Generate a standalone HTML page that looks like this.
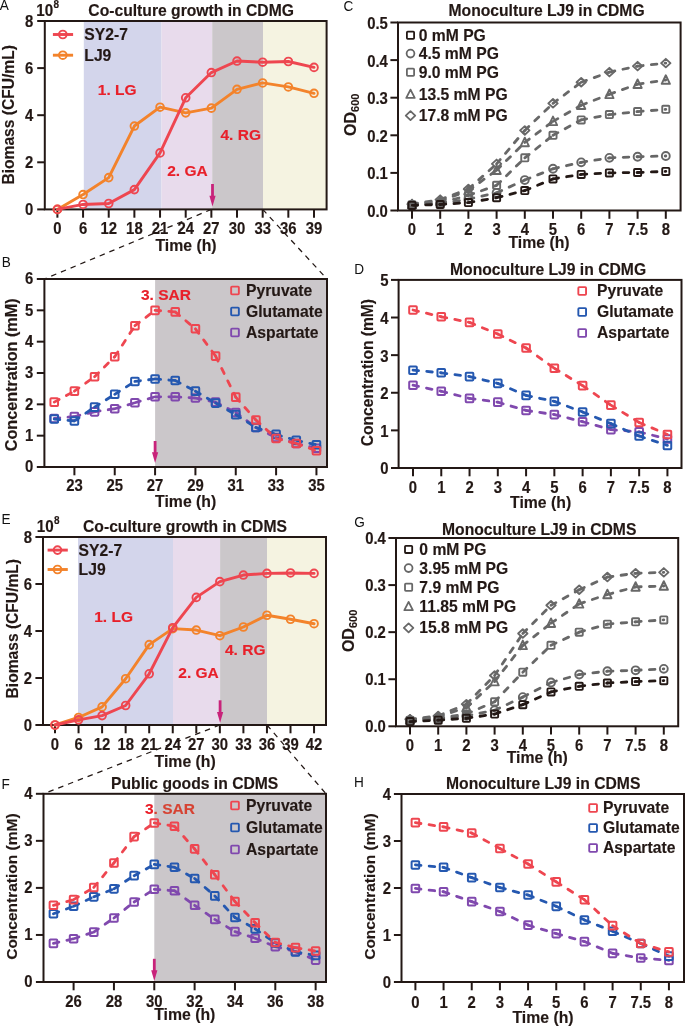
<!DOCTYPE html>
<html><head><meta charset="utf-8"><style>
html,body{margin:0;padding:0;background:#fff;}
svg{display:block;filter:blur(0.4px);}
text{font-family:"Liberation Sans", sans-serif;}
</style></head><body>
<svg width="685" height="1027" viewBox="0 0 685 1027">
<rect width="685" height="1027" fill="#fff"/>
<rect x="83.80" y="21.00" width="77.70" height="188.40" fill="#d3d5eb"/>
<rect x="161.50" y="21.00" width="50.70" height="188.40" fill="#e8dbec"/>
<rect x="212.20" y="21.00" width="50.80" height="188.40" fill="#cbc7ca"/>
<rect x="263.00" y="21.00" width="63.60" height="188.40" fill="#f5f3e1"/>
<rect x="44.80" y="21.00" width="281.80" height="188.40" fill="none" stroke="#231815" stroke-width="2.0"/>
<line x1="37.20" y1="209.40" x2="44.80" y2="209.40" stroke="#231815" stroke-width="2.0"/>
<text transform="translate(33.30 215.26) scale(1 1.055)" font-size="14.9" text-anchor="end" font-weight="bold" fill="#231815" stroke="#231815" stroke-width="0.15">0</text>
<line x1="37.20" y1="162.30" x2="44.80" y2="162.30" stroke="#231815" stroke-width="2.0"/>
<text transform="translate(33.30 168.16) scale(1 1.055)" font-size="14.9" text-anchor="end" font-weight="bold" fill="#231815" stroke="#231815" stroke-width="0.15">2</text>
<line x1="37.20" y1="115.20" x2="44.80" y2="115.20" stroke="#231815" stroke-width="2.0"/>
<text transform="translate(33.30 121.06) scale(1 1.055)" font-size="14.9" text-anchor="end" font-weight="bold" fill="#231815" stroke="#231815" stroke-width="0.15">4</text>
<line x1="37.20" y1="68.10" x2="44.80" y2="68.10" stroke="#231815" stroke-width="2.0"/>
<text transform="translate(33.30 73.96) scale(1 1.055)" font-size="14.9" text-anchor="end" font-weight="bold" fill="#231815" stroke="#231815" stroke-width="0.15">6</text>
<line x1="37.20" y1="21.00" x2="44.80" y2="21.00" stroke="#231815" stroke-width="2.0"/>
<text transform="translate(33.30 26.86) scale(1 1.055)" font-size="14.9" text-anchor="end" font-weight="bold" fill="#231815" stroke="#231815" stroke-width="0.15">8</text>
<line x1="57.40" y1="209.40" x2="57.40" y2="217.70" stroke="#231815" stroke-width="2.0"/>
<text transform="translate(57.40 233.50) scale(1 1.055)" font-size="14.9" text-anchor="middle" font-weight="bold" fill="#231815" stroke="#231815" stroke-width="0.15">0</text>
<line x1="83.06" y1="209.40" x2="83.06" y2="217.70" stroke="#231815" stroke-width="2.0"/>
<text transform="translate(83.06 233.50) scale(1 1.055)" font-size="14.9" text-anchor="middle" font-weight="bold" fill="#231815" stroke="#231815" stroke-width="0.15">6</text>
<line x1="108.72" y1="209.40" x2="108.72" y2="217.70" stroke="#231815" stroke-width="2.0"/>
<text transform="translate(108.72 233.50) scale(1 1.055)" font-size="14.9" text-anchor="middle" font-weight="bold" fill="#231815" stroke="#231815" stroke-width="0.15">12</text>
<line x1="134.38" y1="209.40" x2="134.38" y2="217.70" stroke="#231815" stroke-width="2.0"/>
<text transform="translate(134.38 233.50) scale(1 1.055)" font-size="14.9" text-anchor="middle" font-weight="bold" fill="#231815" stroke="#231815" stroke-width="0.15">18</text>
<line x1="160.04" y1="209.40" x2="160.04" y2="217.70" stroke="#231815" stroke-width="2.0"/>
<text transform="translate(160.04 233.50) scale(1 1.055)" font-size="14.9" text-anchor="middle" font-weight="bold" fill="#231815" stroke="#231815" stroke-width="0.15">21</text>
<line x1="185.70" y1="209.40" x2="185.70" y2="217.70" stroke="#231815" stroke-width="2.0"/>
<text transform="translate(185.70 233.50) scale(1 1.055)" font-size="14.9" text-anchor="middle" font-weight="bold" fill="#231815" stroke="#231815" stroke-width="0.15">24</text>
<line x1="211.36" y1="209.40" x2="211.36" y2="217.70" stroke="#231815" stroke-width="2.0"/>
<text transform="translate(211.36 233.50) scale(1 1.055)" font-size="14.9" text-anchor="middle" font-weight="bold" fill="#231815" stroke="#231815" stroke-width="0.15">27</text>
<line x1="237.02" y1="209.40" x2="237.02" y2="217.70" stroke="#231815" stroke-width="2.0"/>
<text transform="translate(237.02 233.50) scale(1 1.055)" font-size="14.9" text-anchor="middle" font-weight="bold" fill="#231815" stroke="#231815" stroke-width="0.15">30</text>
<line x1="262.68" y1="209.40" x2="262.68" y2="217.70" stroke="#231815" stroke-width="2.0"/>
<text transform="translate(262.68 233.50) scale(1 1.055)" font-size="14.9" text-anchor="middle" font-weight="bold" fill="#231815" stroke="#231815" stroke-width="0.15">33</text>
<line x1="288.34" y1="209.40" x2="288.34" y2="217.70" stroke="#231815" stroke-width="2.0"/>
<text transform="translate(288.34 233.50) scale(1 1.055)" font-size="14.9" text-anchor="middle" font-weight="bold" fill="#231815" stroke="#231815" stroke-width="0.15">36</text>
<line x1="314.00" y1="209.40" x2="314.00" y2="217.70" stroke="#231815" stroke-width="2.0"/>
<text transform="translate(314.00 233.50) scale(1 1.055)" font-size="14.9" text-anchor="middle" font-weight="bold" fill="#231815" stroke="#231815" stroke-width="0.15">39</text>
<text transform="translate(36.30 15.60) scale(1 1.07)" font-size="15.2" font-weight="bold" fill="#231815" stroke="#231815" stroke-width="0.15">10</text>
<text x="53.50" y="7.70" font-size="10" font-weight="bold" fill="#231815" stroke="#231815" stroke-width="0.15">8</text>
<text x="88.30" y="15.60" font-size="15.7" text-anchor="start" font-weight="bold" fill="#231815" stroke="#231815" stroke-width="0.15">Co-culture growth in CDMG</text>
<text x="14.00" y="114.80" font-size="15.6" text-anchor="middle" font-weight="bold" fill="#231815" stroke="#231815" stroke-width="0.15" transform="rotate(-90 14 114.8)">Biomass (CFU/mL)</text>
<text x="186.00" y="251.00" font-size="15.8" text-anchor="middle" font-weight="bold" fill="#231815" stroke="#231815" stroke-width="0.15">Time (h)</text>
<text x="97.80" y="95.30" font-size="15.5" text-anchor="start" font-weight="bold" fill="#e8202a" stroke="#e8202a" stroke-width="0.15">1. LG</text>
<text x="167.20" y="175.60" font-size="15.5" text-anchor="start" font-weight="bold" fill="#e8202a" stroke="#e8202a" stroke-width="0.15">2. GA</text>
<text x="220.50" y="139.60" font-size="15.5" text-anchor="start" font-weight="bold" fill="#e8202a" stroke="#e8202a" stroke-width="0.15">4. RG</text>
<polyline points="57.40,209.40 83.06,194.56 108.72,177.61 134.38,126.03 160.04,107.19 185.70,112.85 211.36,108.14 237.02,89.30 262.68,82.94 288.34,86.94 314.00,93.30" fill="none" stroke="#f3832b" stroke-width="2.9" stroke-linecap="round" stroke-linejoin="round"/>
<circle cx="57.40" cy="209.40" r="3.85" fill="none" stroke="#f3832b" stroke-width="1.9"/>
<circle cx="83.06" cy="194.56" r="3.85" fill="none" stroke="#f3832b" stroke-width="1.9"/>
<circle cx="108.72" cy="177.61" r="3.85" fill="none" stroke="#f3832b" stroke-width="1.9"/>
<circle cx="134.38" cy="126.03" r="3.85" fill="none" stroke="#f3832b" stroke-width="1.9"/>
<circle cx="160.04" cy="107.19" r="3.85" fill="none" stroke="#f3832b" stroke-width="1.9"/>
<circle cx="185.70" cy="112.85" r="3.85" fill="none" stroke="#f3832b" stroke-width="1.9"/>
<circle cx="211.36" cy="108.14" r="3.85" fill="none" stroke="#f3832b" stroke-width="1.9"/>
<circle cx="237.02" cy="89.30" r="3.85" fill="none" stroke="#f3832b" stroke-width="1.9"/>
<circle cx="262.68" cy="82.94" r="3.85" fill="none" stroke="#f3832b" stroke-width="1.9"/>
<circle cx="288.34" cy="86.94" r="3.85" fill="none" stroke="#f3832b" stroke-width="1.9"/>
<circle cx="314.00" cy="93.30" r="3.85" fill="none" stroke="#f3832b" stroke-width="1.9"/>
<polyline points="57.40,209.40 83.06,204.45 108.72,203.51 134.38,189.62 160.04,152.88 185.70,97.77 211.36,72.57 237.02,61.03 262.68,62.21 288.34,61.51 314.00,67.39" fill="none" stroke="#ee4650" stroke-width="2.9" stroke-linecap="round" stroke-linejoin="round"/>
<circle cx="57.40" cy="209.40" r="3.85" fill="none" stroke="#ee4650" stroke-width="1.9"/>
<circle cx="83.06" cy="204.45" r="3.85" fill="none" stroke="#ee4650" stroke-width="1.9"/>
<circle cx="108.72" cy="203.51" r="3.85" fill="none" stroke="#ee4650" stroke-width="1.9"/>
<circle cx="134.38" cy="189.62" r="3.85" fill="none" stroke="#ee4650" stroke-width="1.9"/>
<circle cx="160.04" cy="152.88" r="3.85" fill="none" stroke="#ee4650" stroke-width="1.9"/>
<circle cx="185.70" cy="97.77" r="3.85" fill="none" stroke="#ee4650" stroke-width="1.9"/>
<circle cx="211.36" cy="72.57" r="3.85" fill="none" stroke="#ee4650" stroke-width="1.9"/>
<circle cx="237.02" cy="61.03" r="3.85" fill="none" stroke="#ee4650" stroke-width="1.9"/>
<circle cx="262.68" cy="62.21" r="3.85" fill="none" stroke="#ee4650" stroke-width="1.9"/>
<circle cx="288.34" cy="61.51" r="3.85" fill="none" stroke="#ee4650" stroke-width="1.9"/>
<circle cx="314.00" cy="67.39" r="3.85" fill="none" stroke="#ee4650" stroke-width="1.9"/>
<line x1="52.90" y1="34.50" x2="73.10" y2="34.50" stroke="#ee4650" stroke-width="2.9"/>
<circle cx="62.80" cy="34.50" r="3.85" fill="none" stroke="#ee4650" stroke-width="1.9"/>
<text x="84.30" y="39.50" font-size="15.7" text-anchor="start" font-weight="bold" fill="#231815" stroke="#231815" stroke-width="0.15">SY2-7</text>
<line x1="52.90" y1="55.20" x2="73.10" y2="55.20" stroke="#f3832b" stroke-width="2.9"/>
<circle cx="62.80" cy="55.20" r="3.85" fill="none" stroke="#f3832b" stroke-width="1.9"/>
<text x="84.30" y="60.50" font-size="15.7" text-anchor="start" font-weight="bold" fill="#231815" stroke="#231815" stroke-width="0.15">LJ9</text>
<line x1="212.50" y1="184.00" x2="212.50" y2="196.60" stroke="#c8237a" stroke-width="2.8"/>
<polygon points="209.40,195.80 215.60,195.80 212.50,206.60" fill="#c8237a"/>
<text transform="translate(-0.20 10.30) scale(0.92 1)" font-size="14.8" fill="#111">A</text>
<rect x="78.00" y="537.00" width="95.00" height="188.00" fill="#d3d5eb"/>
<rect x="173.00" y="537.00" width="47.10" height="188.00" fill="#e8dbec"/>
<rect x="220.10" y="537.00" width="46.90" height="188.00" fill="#cbc7ca"/>
<rect x="267.00" y="537.00" width="59.00" height="188.00" fill="#f5f3e1"/>
<rect x="43.00" y="537.00" width="283.00" height="188.00" fill="none" stroke="#231815" stroke-width="2.0"/>
<line x1="35.40" y1="725.00" x2="43.00" y2="725.00" stroke="#231815" stroke-width="2.0"/>
<text transform="translate(32.00 730.86) scale(1 1.055)" font-size="14.9" text-anchor="end" font-weight="bold" fill="#231815" stroke="#231815" stroke-width="0.15">0</text>
<line x1="35.40" y1="678.00" x2="43.00" y2="678.00" stroke="#231815" stroke-width="2.0"/>
<text transform="translate(32.00 683.86) scale(1 1.055)" font-size="14.9" text-anchor="end" font-weight="bold" fill="#231815" stroke="#231815" stroke-width="0.15">2</text>
<line x1="35.40" y1="631.00" x2="43.00" y2="631.00" stroke="#231815" stroke-width="2.0"/>
<text transform="translate(32.00 636.86) scale(1 1.055)" font-size="14.9" text-anchor="end" font-weight="bold" fill="#231815" stroke="#231815" stroke-width="0.15">4</text>
<line x1="35.40" y1="584.00" x2="43.00" y2="584.00" stroke="#231815" stroke-width="2.0"/>
<text transform="translate(32.00 589.86) scale(1 1.055)" font-size="14.9" text-anchor="end" font-weight="bold" fill="#231815" stroke="#231815" stroke-width="0.15">6</text>
<line x1="35.40" y1="537.00" x2="43.00" y2="537.00" stroke="#231815" stroke-width="2.0"/>
<text transform="translate(32.00 542.86) scale(1 1.055)" font-size="14.9" text-anchor="end" font-weight="bold" fill="#231815" stroke="#231815" stroke-width="0.15">8</text>
<line x1="55.00" y1="725.00" x2="55.00" y2="733.30" stroke="#231815" stroke-width="2.0"/>
<text transform="translate(55.00 750.00) scale(1 1.055)" font-size="14.9" text-anchor="middle" font-weight="bold" fill="#231815" stroke="#231815" stroke-width="0.15">0</text>
<line x1="78.55" y1="725.00" x2="78.55" y2="733.30" stroke="#231815" stroke-width="2.0"/>
<text transform="translate(78.55 750.00) scale(1 1.055)" font-size="14.9" text-anchor="middle" font-weight="bold" fill="#231815" stroke="#231815" stroke-width="0.15">6</text>
<line x1="102.10" y1="725.00" x2="102.10" y2="733.30" stroke="#231815" stroke-width="2.0"/>
<text transform="translate(102.10 750.00) scale(1 1.055)" font-size="14.9" text-anchor="middle" font-weight="bold" fill="#231815" stroke="#231815" stroke-width="0.15">12</text>
<line x1="125.65" y1="725.00" x2="125.65" y2="733.30" stroke="#231815" stroke-width="2.0"/>
<text transform="translate(125.65 750.00) scale(1 1.055)" font-size="14.9" text-anchor="middle" font-weight="bold" fill="#231815" stroke="#231815" stroke-width="0.15">18</text>
<line x1="149.20" y1="725.00" x2="149.20" y2="733.30" stroke="#231815" stroke-width="2.0"/>
<text transform="translate(149.20 750.00) scale(1 1.055)" font-size="14.9" text-anchor="middle" font-weight="bold" fill="#231815" stroke="#231815" stroke-width="0.15">21</text>
<line x1="172.75" y1="725.00" x2="172.75" y2="733.30" stroke="#231815" stroke-width="2.0"/>
<text transform="translate(172.75 750.00) scale(1 1.055)" font-size="14.9" text-anchor="middle" font-weight="bold" fill="#231815" stroke="#231815" stroke-width="0.15">24</text>
<line x1="196.30" y1="725.00" x2="196.30" y2="733.30" stroke="#231815" stroke-width="2.0"/>
<text transform="translate(196.30 750.00) scale(1 1.055)" font-size="14.9" text-anchor="middle" font-weight="bold" fill="#231815" stroke="#231815" stroke-width="0.15">27</text>
<line x1="219.85" y1="725.00" x2="219.85" y2="733.30" stroke="#231815" stroke-width="2.0"/>
<text transform="translate(219.85 750.00) scale(1 1.055)" font-size="14.9" text-anchor="middle" font-weight="bold" fill="#231815" stroke="#231815" stroke-width="0.15">30</text>
<line x1="243.40" y1="725.00" x2="243.40" y2="733.30" stroke="#231815" stroke-width="2.0"/>
<text transform="translate(243.40 750.00) scale(1 1.055)" font-size="14.9" text-anchor="middle" font-weight="bold" fill="#231815" stroke="#231815" stroke-width="0.15">33</text>
<line x1="266.95" y1="725.00" x2="266.95" y2="733.30" stroke="#231815" stroke-width="2.0"/>
<text transform="translate(266.95 750.00) scale(1 1.055)" font-size="14.9" text-anchor="middle" font-weight="bold" fill="#231815" stroke="#231815" stroke-width="0.15">36</text>
<line x1="290.50" y1="725.00" x2="290.50" y2="733.30" stroke="#231815" stroke-width="2.0"/>
<text transform="translate(290.50 750.00) scale(1 1.055)" font-size="14.9" text-anchor="middle" font-weight="bold" fill="#231815" stroke="#231815" stroke-width="0.15">39</text>
<line x1="314.05" y1="725.00" x2="314.05" y2="733.30" stroke="#231815" stroke-width="2.0"/>
<text transform="translate(314.05 750.00) scale(1 1.055)" font-size="14.9" text-anchor="middle" font-weight="bold" fill="#231815" stroke="#231815" stroke-width="0.15">42</text>
<text transform="translate(36.80 532.20) scale(1 1.07)" font-size="15.2" font-weight="bold" fill="#231815" stroke="#231815" stroke-width="0.15">10</text>
<text x="54.00" y="524.30" font-size="10" font-weight="bold" fill="#231815" stroke="#231815" stroke-width="0.15">8</text>
<text x="83.00" y="531.50" font-size="15.7" text-anchor="start" font-weight="bold" fill="#231815" stroke="#231815" stroke-width="0.15">Co-culture growth in CDMS</text>
<text x="18.00" y="628.70" font-size="15.6" text-anchor="middle" font-weight="bold" fill="#231815" stroke="#231815" stroke-width="0.15" transform="rotate(-90 18 628.7)">Biomass (CFU/mL)</text>
<text x="185.20" y="766.70" font-size="15.8" text-anchor="middle" font-weight="bold" fill="#231815" stroke="#231815" stroke-width="0.15">Time (h)</text>
<text x="94.20" y="621.80" font-size="15.5" text-anchor="start" font-weight="bold" fill="#e8202a" stroke="#e8202a" stroke-width="0.15">1. LG</text>
<text x="178.30" y="677.80" font-size="15.5" text-anchor="start" font-weight="bold" fill="#e8202a" stroke="#e8202a" stroke-width="0.15">2. GA</text>
<text x="225.00" y="654.60" font-size="15.5" text-anchor="start" font-weight="bold" fill="#e8202a" stroke="#e8202a" stroke-width="0.15">4. RG</text>
<polyline points="55.00,725.00 78.55,717.48 102.10,706.90 125.65,678.71 149.20,644.63 172.75,628.65 196.30,630.06 219.85,635.70 243.40,627.00 266.95,615.25 290.50,619.25 314.05,623.72" fill="none" stroke="#f3832b" stroke-width="2.9" stroke-linecap="round" stroke-linejoin="round"/>
<circle cx="55.00" cy="725.00" r="3.85" fill="none" stroke="#f3832b" stroke-width="1.9"/>
<circle cx="78.55" cy="717.48" r="3.85" fill="none" stroke="#f3832b" stroke-width="1.9"/>
<circle cx="102.10" cy="706.90" r="3.85" fill="none" stroke="#f3832b" stroke-width="1.9"/>
<circle cx="125.65" cy="678.71" r="3.85" fill="none" stroke="#f3832b" stroke-width="1.9"/>
<circle cx="149.20" cy="644.63" r="3.85" fill="none" stroke="#f3832b" stroke-width="1.9"/>
<circle cx="172.75" cy="628.65" r="3.85" fill="none" stroke="#f3832b" stroke-width="1.9"/>
<circle cx="196.30" cy="630.06" r="3.85" fill="none" stroke="#f3832b" stroke-width="1.9"/>
<circle cx="219.85" cy="635.70" r="3.85" fill="none" stroke="#f3832b" stroke-width="1.9"/>
<circle cx="243.40" cy="627.00" r="3.85" fill="none" stroke="#f3832b" stroke-width="1.9"/>
<circle cx="266.95" cy="615.25" r="3.85" fill="none" stroke="#f3832b" stroke-width="1.9"/>
<circle cx="290.50" cy="619.25" r="3.85" fill="none" stroke="#f3832b" stroke-width="1.9"/>
<circle cx="314.05" cy="623.72" r="3.85" fill="none" stroke="#f3832b" stroke-width="1.9"/>
<polyline points="55.00,725.00 78.55,719.83 102.10,715.60 125.65,705.50 149.20,673.77 172.75,627.71 196.30,597.39 219.85,581.65 243.40,575.07 266.95,573.42 290.50,572.96 314.05,573.42" fill="none" stroke="#ee4650" stroke-width="2.9" stroke-linecap="round" stroke-linejoin="round"/>
<circle cx="55.00" cy="725.00" r="3.85" fill="none" stroke="#ee4650" stroke-width="1.9"/>
<circle cx="78.55" cy="719.83" r="3.85" fill="none" stroke="#ee4650" stroke-width="1.9"/>
<circle cx="102.10" cy="715.60" r="3.85" fill="none" stroke="#ee4650" stroke-width="1.9"/>
<circle cx="125.65" cy="705.50" r="3.85" fill="none" stroke="#ee4650" stroke-width="1.9"/>
<circle cx="149.20" cy="673.77" r="3.85" fill="none" stroke="#ee4650" stroke-width="1.9"/>
<circle cx="172.75" cy="627.71" r="3.85" fill="none" stroke="#ee4650" stroke-width="1.9"/>
<circle cx="196.30" cy="597.39" r="3.85" fill="none" stroke="#ee4650" stroke-width="1.9"/>
<circle cx="219.85" cy="581.65" r="3.85" fill="none" stroke="#ee4650" stroke-width="1.9"/>
<circle cx="243.40" cy="575.07" r="3.85" fill="none" stroke="#ee4650" stroke-width="1.9"/>
<circle cx="266.95" cy="573.42" r="3.85" fill="none" stroke="#ee4650" stroke-width="1.9"/>
<circle cx="290.50" cy="572.96" r="3.85" fill="none" stroke="#ee4650" stroke-width="1.9"/>
<circle cx="314.05" cy="573.42" r="3.85" fill="none" stroke="#ee4650" stroke-width="1.9"/>
<line x1="47.60" y1="550.10" x2="67.80" y2="550.10" stroke="#ee4650" stroke-width="2.9"/>
<circle cx="57.50" cy="550.10" r="3.85" fill="none" stroke="#ee4650" stroke-width="1.9"/>
<text x="78.60" y="555.50" font-size="15.7" text-anchor="start" font-weight="bold" fill="#231815" stroke="#231815" stroke-width="0.15">SY2-7</text>
<line x1="47.60" y1="569.50" x2="67.80" y2="569.50" stroke="#f3832b" stroke-width="2.9"/>
<circle cx="57.50" cy="569.50" r="3.85" fill="none" stroke="#f3832b" stroke-width="1.9"/>
<text x="78.60" y="574.60" font-size="15.7" text-anchor="start" font-weight="bold" fill="#231815" stroke="#231815" stroke-width="0.15">LJ9</text>
<line x1="220.10" y1="700.30" x2="220.10" y2="712.80" stroke="#c8237a" stroke-width="2.8"/>
<polygon points="217.00,712.00 223.20,712.00 220.10,722.80" fill="#c8237a"/>
<text transform="translate(1.60 523.80) scale(0.92 1)" font-size="14.8" fill="#111">E</text>
<rect x="155.10" y="279.00" width="171.90" height="188.00" fill="#cbc7ca"/>
<rect x="44.40" y="279.00" width="282.60" height="188.00" fill="none" stroke="#231815" stroke-width="2.0"/>
<line x1="36.80" y1="467.00" x2="44.40" y2="467.00" stroke="#231815" stroke-width="2.0"/>
<text transform="translate(33.40 472.36) scale(1 1.055)" font-size="14.9" text-anchor="end" font-weight="bold" fill="#231815" stroke="#231815" stroke-width="0.15">0</text>
<line x1="36.80" y1="435.67" x2="44.40" y2="435.67" stroke="#231815" stroke-width="2.0"/>
<text transform="translate(33.40 441.03) scale(1 1.055)" font-size="14.9" text-anchor="end" font-weight="bold" fill="#231815" stroke="#231815" stroke-width="0.15">1</text>
<line x1="36.80" y1="404.33" x2="44.40" y2="404.33" stroke="#231815" stroke-width="2.0"/>
<text transform="translate(33.40 409.70) scale(1 1.055)" font-size="14.9" text-anchor="end" font-weight="bold" fill="#231815" stroke="#231815" stroke-width="0.15">2</text>
<line x1="36.80" y1="373.00" x2="44.40" y2="373.00" stroke="#231815" stroke-width="2.0"/>
<text transform="translate(33.40 378.36) scale(1 1.055)" font-size="14.9" text-anchor="end" font-weight="bold" fill="#231815" stroke="#231815" stroke-width="0.15">3</text>
<line x1="36.80" y1="341.67" x2="44.40" y2="341.67" stroke="#231815" stroke-width="2.0"/>
<text transform="translate(33.40 347.03) scale(1 1.055)" font-size="14.9" text-anchor="end" font-weight="bold" fill="#231815" stroke="#231815" stroke-width="0.15">4</text>
<line x1="36.80" y1="310.33" x2="44.40" y2="310.33" stroke="#231815" stroke-width="2.0"/>
<text transform="translate(33.40 315.70) scale(1 1.055)" font-size="14.9" text-anchor="end" font-weight="bold" fill="#231815" stroke="#231815" stroke-width="0.15">5</text>
<line x1="36.80" y1="279.00" x2="44.40" y2="279.00" stroke="#231815" stroke-width="2.0"/>
<text transform="translate(33.40 284.36) scale(1 1.055)" font-size="14.9" text-anchor="end" font-weight="bold" fill="#231815" stroke="#231815" stroke-width="0.15">6</text>
<line x1="74.40" y1="467.00" x2="74.40" y2="475.30" stroke="#231815" stroke-width="2.0"/>
<text transform="translate(74.40 491.00) scale(1 1.055)" font-size="14.9" text-anchor="middle" font-weight="bold" fill="#231815" stroke="#231815" stroke-width="0.15">23</text>
<line x1="114.74" y1="467.00" x2="114.74" y2="475.30" stroke="#231815" stroke-width="2.0"/>
<text transform="translate(114.74 491.00) scale(1 1.055)" font-size="14.9" text-anchor="middle" font-weight="bold" fill="#231815" stroke="#231815" stroke-width="0.15">25</text>
<line x1="155.08" y1="467.00" x2="155.08" y2="475.30" stroke="#231815" stroke-width="2.0"/>
<text transform="translate(155.08 491.00) scale(1 1.055)" font-size="14.9" text-anchor="middle" font-weight="bold" fill="#231815" stroke="#231815" stroke-width="0.15">27</text>
<line x1="195.42" y1="467.00" x2="195.42" y2="475.30" stroke="#231815" stroke-width="2.0"/>
<text transform="translate(195.42 491.00) scale(1 1.055)" font-size="14.9" text-anchor="middle" font-weight="bold" fill="#231815" stroke="#231815" stroke-width="0.15">29</text>
<line x1="235.76" y1="467.00" x2="235.76" y2="475.30" stroke="#231815" stroke-width="2.0"/>
<text transform="translate(235.76 491.00) scale(1 1.055)" font-size="14.9" text-anchor="middle" font-weight="bold" fill="#231815" stroke="#231815" stroke-width="0.15">31</text>
<line x1="276.10" y1="467.00" x2="276.10" y2="475.30" stroke="#231815" stroke-width="2.0"/>
<text transform="translate(276.10 491.00) scale(1 1.055)" font-size="14.9" text-anchor="middle" font-weight="bold" fill="#231815" stroke="#231815" stroke-width="0.15">33</text>
<line x1="316.44" y1="467.00" x2="316.44" y2="475.30" stroke="#231815" stroke-width="2.0"/>
<text transform="translate(316.44 491.00) scale(1 1.055)" font-size="14.9" text-anchor="middle" font-weight="bold" fill="#231815" stroke="#231815" stroke-width="0.15">35</text>
<text x="17.00" y="374.80" font-size="16.2" text-anchor="middle" font-weight="bold" fill="#231815" stroke="#231815" stroke-width="0.15" transform="rotate(-90 17 374.8)">Concentration (mM)</text>
<text x="185.70" y="507.00" font-size="15.8" text-anchor="middle" font-weight="bold" fill="#231815" stroke="#231815" stroke-width="0.15">Time (h)</text>
<line x1="54.23" y1="418.43" x2="74.40" y2="416.55" stroke="#8049ae" stroke-width="2.8" stroke-linecap="round" stroke-dasharray="5.6,8.2"/>
<line x1="74.40" y1="416.55" x2="94.57" y2="411.85" stroke="#8049ae" stroke-width="2.8" stroke-linecap="round" stroke-dasharray="5.6,8.2"/>
<line x1="94.57" y1="411.85" x2="114.74" y2="408.72" stroke="#8049ae" stroke-width="2.8" stroke-linecap="round" stroke-dasharray="5.6,8.2"/>
<line x1="114.74" y1="408.72" x2="134.91" y2="402.77" stroke="#8049ae" stroke-width="2.8" stroke-linecap="round" stroke-dasharray="5.6,8.2"/>
<line x1="134.91" y1="402.77" x2="155.08" y2="396.81" stroke="#8049ae" stroke-width="2.8" stroke-linecap="round" stroke-dasharray="5.6,8.2"/>
<line x1="155.08" y1="396.81" x2="175.25" y2="396.81" stroke="#8049ae" stroke-width="2.8" stroke-linecap="round" stroke-dasharray="5.6,8.2"/>
<line x1="175.25" y1="396.81" x2="195.42" y2="398.07" stroke="#8049ae" stroke-width="2.8" stroke-linecap="round" stroke-dasharray="5.6,8.2"/>
<line x1="195.42" y1="398.07" x2="215.59" y2="402.14" stroke="#8049ae" stroke-width="2.8" stroke-linecap="round" stroke-dasharray="5.6,8.2"/>
<line x1="215.59" y1="402.14" x2="235.76" y2="412.48" stroke="#8049ae" stroke-width="2.8" stroke-linecap="round" stroke-dasharray="5.6,8.2"/>
<line x1="235.76" y1="412.48" x2="255.93" y2="427.52" stroke="#8049ae" stroke-width="2.8" stroke-linecap="round" stroke-dasharray="5.6,8.2"/>
<line x1="255.93" y1="427.52" x2="276.10" y2="437.55" stroke="#8049ae" stroke-width="2.8" stroke-linecap="round" stroke-dasharray="5.6,8.2"/>
<line x1="276.10" y1="437.55" x2="296.27" y2="443.50" stroke="#8049ae" stroke-width="2.8" stroke-linecap="round" stroke-dasharray="5.6,8.2"/>
<line x1="296.27" y1="443.50" x2="316.44" y2="448.20" stroke="#8049ae" stroke-width="2.8" stroke-linecap="round" stroke-dasharray="5.6,8.2"/>
<rect x="50.43" y="414.63" width="7.60" height="7.60" rx="0.8" fill="none" stroke="#8049ae" stroke-width="2.0"/>
<rect x="70.60" y="412.75" width="7.60" height="7.60" rx="0.8" fill="none" stroke="#8049ae" stroke-width="2.0"/>
<rect x="90.77" y="408.05" width="7.60" height="7.60" rx="0.8" fill="none" stroke="#8049ae" stroke-width="2.0"/>
<rect x="110.94" y="404.92" width="7.60" height="7.60" rx="0.8" fill="none" stroke="#8049ae" stroke-width="2.0"/>
<rect x="131.11" y="398.97" width="7.60" height="7.60" rx="0.8" fill="none" stroke="#8049ae" stroke-width="2.0"/>
<rect x="151.28" y="393.01" width="7.60" height="7.60" rx="0.8" fill="none" stroke="#8049ae" stroke-width="2.0"/>
<rect x="171.45" y="393.01" width="7.60" height="7.60" rx="0.8" fill="none" stroke="#8049ae" stroke-width="2.0"/>
<rect x="191.62" y="394.27" width="7.60" height="7.60" rx="0.8" fill="none" stroke="#8049ae" stroke-width="2.0"/>
<rect x="211.79" y="398.34" width="7.60" height="7.60" rx="0.8" fill="none" stroke="#8049ae" stroke-width="2.0"/>
<rect x="231.96" y="408.68" width="7.60" height="7.60" rx="0.8" fill="none" stroke="#8049ae" stroke-width="2.0"/>
<rect x="252.13" y="423.72" width="7.60" height="7.60" rx="0.8" fill="none" stroke="#8049ae" stroke-width="2.0"/>
<rect x="272.30" y="433.75" width="7.60" height="7.60" rx="0.8" fill="none" stroke="#8049ae" stroke-width="2.0"/>
<rect x="292.47" y="439.70" width="7.60" height="7.60" rx="0.8" fill="none" stroke="#8049ae" stroke-width="2.0"/>
<rect x="312.64" y="444.40" width="7.60" height="7.60" rx="0.8" fill="none" stroke="#8049ae" stroke-width="2.0"/>
<line x1="54.23" y1="419.06" x2="74.40" y2="420.94" stroke="#2558b0" stroke-width="2.8" stroke-linecap="round" stroke-dasharray="5.6,8.2"/>
<line x1="74.40" y1="420.94" x2="94.57" y2="407.15" stroke="#2558b0" stroke-width="2.8" stroke-linecap="round" stroke-dasharray="5.6,8.2"/>
<line x1="94.57" y1="407.15" x2="114.74" y2="394.31" stroke="#2558b0" stroke-width="2.8" stroke-linecap="round" stroke-dasharray="5.6,8.2"/>
<line x1="114.74" y1="394.31" x2="134.91" y2="381.46" stroke="#2558b0" stroke-width="2.8" stroke-linecap="round" stroke-dasharray="5.6,8.2"/>
<line x1="134.91" y1="381.46" x2="155.08" y2="378.95" stroke="#2558b0" stroke-width="2.8" stroke-linecap="round" stroke-dasharray="5.6,8.2"/>
<line x1="155.08" y1="378.95" x2="175.25" y2="380.52" stroke="#2558b0" stroke-width="2.8" stroke-linecap="round" stroke-dasharray="5.6,8.2"/>
<line x1="175.25" y1="380.52" x2="195.42" y2="391.17" stroke="#2558b0" stroke-width="2.8" stroke-linecap="round" stroke-dasharray="5.6,8.2"/>
<line x1="195.42" y1="391.17" x2="215.59" y2="403.08" stroke="#2558b0" stroke-width="2.8" stroke-linecap="round" stroke-dasharray="5.6,8.2"/>
<line x1="215.59" y1="403.08" x2="235.76" y2="414.67" stroke="#2558b0" stroke-width="2.8" stroke-linecap="round" stroke-dasharray="5.6,8.2"/>
<line x1="235.76" y1="414.67" x2="255.93" y2="427.52" stroke="#2558b0" stroke-width="2.8" stroke-linecap="round" stroke-dasharray="5.6,8.2"/>
<line x1="255.93" y1="427.52" x2="276.10" y2="434.41" stroke="#2558b0" stroke-width="2.8" stroke-linecap="round" stroke-dasharray="5.6,8.2"/>
<line x1="276.10" y1="434.41" x2="296.27" y2="440.37" stroke="#2558b0" stroke-width="2.8" stroke-linecap="round" stroke-dasharray="5.6,8.2"/>
<line x1="296.27" y1="440.37" x2="316.44" y2="444.75" stroke="#2558b0" stroke-width="2.8" stroke-linecap="round" stroke-dasharray="5.6,8.2"/>
<rect x="50.43" y="415.26" width="7.60" height="7.60" rx="0.8" fill="none" stroke="#2558b0" stroke-width="2.0"/>
<rect x="70.60" y="417.14" width="7.60" height="7.60" rx="0.8" fill="none" stroke="#2558b0" stroke-width="2.0"/>
<rect x="90.77" y="403.35" width="7.60" height="7.60" rx="0.8" fill="none" stroke="#2558b0" stroke-width="2.0"/>
<rect x="110.94" y="390.51" width="7.60" height="7.60" rx="0.8" fill="none" stroke="#2558b0" stroke-width="2.0"/>
<rect x="131.11" y="377.66" width="7.60" height="7.60" rx="0.8" fill="none" stroke="#2558b0" stroke-width="2.0"/>
<rect x="151.28" y="375.15" width="7.60" height="7.60" rx="0.8" fill="none" stroke="#2558b0" stroke-width="2.0"/>
<rect x="171.45" y="376.72" width="7.60" height="7.60" rx="0.8" fill="none" stroke="#2558b0" stroke-width="2.0"/>
<rect x="191.62" y="387.37" width="7.60" height="7.60" rx="0.8" fill="none" stroke="#2558b0" stroke-width="2.0"/>
<rect x="211.79" y="399.28" width="7.60" height="7.60" rx="0.8" fill="none" stroke="#2558b0" stroke-width="2.0"/>
<rect x="231.96" y="410.87" width="7.60" height="7.60" rx="0.8" fill="none" stroke="#2558b0" stroke-width="2.0"/>
<rect x="252.13" y="423.72" width="7.60" height="7.60" rx="0.8" fill="none" stroke="#2558b0" stroke-width="2.0"/>
<rect x="272.30" y="430.61" width="7.60" height="7.60" rx="0.8" fill="none" stroke="#2558b0" stroke-width="2.0"/>
<rect x="292.47" y="436.57" width="7.60" height="7.60" rx="0.8" fill="none" stroke="#2558b0" stroke-width="2.0"/>
<rect x="312.64" y="440.95" width="7.60" height="7.60" rx="0.8" fill="none" stroke="#2558b0" stroke-width="2.0"/>
<line x1="54.23" y1="402.14" x2="74.40" y2="391.17" stroke="#ee4650" stroke-width="2.8" stroke-linecap="round" stroke-dasharray="5.6,8.2"/>
<line x1="74.40" y1="391.17" x2="94.57" y2="376.76" stroke="#ee4650" stroke-width="2.8" stroke-linecap="round" stroke-dasharray="5.6,8.2"/>
<line x1="94.57" y1="376.76" x2="114.74" y2="356.71" stroke="#ee4650" stroke-width="2.8" stroke-linecap="round" stroke-dasharray="5.6,8.2"/>
<line x1="114.74" y1="356.71" x2="134.91" y2="325.69" stroke="#ee4650" stroke-width="2.8" stroke-linecap="round" stroke-dasharray="5.6,8.2"/>
<line x1="134.91" y1="325.69" x2="155.08" y2="310.33" stroke="#ee4650" stroke-width="2.8" stroke-linecap="round" stroke-dasharray="5.6,8.2"/>
<line x1="155.08" y1="310.33" x2="175.25" y2="311.90" stroke="#ee4650" stroke-width="2.8" stroke-linecap="round" stroke-dasharray="5.6,8.2"/>
<line x1="175.25" y1="311.90" x2="195.42" y2="328.82" stroke="#ee4650" stroke-width="2.8" stroke-linecap="round" stroke-dasharray="5.6,8.2"/>
<line x1="195.42" y1="328.82" x2="215.59" y2="356.08" stroke="#ee4650" stroke-width="2.8" stroke-linecap="round" stroke-dasharray="5.6,8.2"/>
<line x1="215.59" y1="356.08" x2="235.76" y2="397.13" stroke="#ee4650" stroke-width="2.8" stroke-linecap="round" stroke-dasharray="5.6,8.2"/>
<line x1="235.76" y1="397.13" x2="255.93" y2="420.00" stroke="#ee4650" stroke-width="2.8" stroke-linecap="round" stroke-dasharray="5.6,8.2"/>
<line x1="255.93" y1="420.00" x2="276.10" y2="438.49" stroke="#ee4650" stroke-width="2.8" stroke-linecap="round" stroke-dasharray="5.6,8.2"/>
<line x1="276.10" y1="438.49" x2="296.27" y2="443.50" stroke="#ee4650" stroke-width="2.8" stroke-linecap="round" stroke-dasharray="5.6,8.2"/>
<line x1="296.27" y1="443.50" x2="316.44" y2="450.71" stroke="#ee4650" stroke-width="2.8" stroke-linecap="round" stroke-dasharray="5.6,8.2"/>
<rect x="50.43" y="398.34" width="7.60" height="7.60" rx="0.8" fill="none" stroke="#ee4650" stroke-width="2.0"/>
<rect x="70.60" y="387.37" width="7.60" height="7.60" rx="0.8" fill="none" stroke="#ee4650" stroke-width="2.0"/>
<rect x="90.77" y="372.96" width="7.60" height="7.60" rx="0.8" fill="none" stroke="#ee4650" stroke-width="2.0"/>
<rect x="110.94" y="352.91" width="7.60" height="7.60" rx="0.8" fill="none" stroke="#ee4650" stroke-width="2.0"/>
<rect x="131.11" y="321.89" width="7.60" height="7.60" rx="0.8" fill="none" stroke="#ee4650" stroke-width="2.0"/>
<rect x="151.28" y="306.53" width="7.60" height="7.60" rx="0.8" fill="none" stroke="#ee4650" stroke-width="2.0"/>
<rect x="171.45" y="308.10" width="7.60" height="7.60" rx="0.8" fill="none" stroke="#ee4650" stroke-width="2.0"/>
<rect x="191.62" y="325.02" width="7.60" height="7.60" rx="0.8" fill="none" stroke="#ee4650" stroke-width="2.0"/>
<rect x="211.79" y="352.28" width="7.60" height="7.60" rx="0.8" fill="none" stroke="#ee4650" stroke-width="2.0"/>
<rect x="231.96" y="393.33" width="7.60" height="7.60" rx="0.8" fill="none" stroke="#ee4650" stroke-width="2.0"/>
<rect x="252.13" y="416.20" width="7.60" height="7.60" rx="0.8" fill="none" stroke="#ee4650" stroke-width="2.0"/>
<rect x="272.30" y="434.69" width="7.60" height="7.60" rx="0.8" fill="none" stroke="#ee4650" stroke-width="2.0"/>
<rect x="292.47" y="439.70" width="7.60" height="7.60" rx="0.8" fill="none" stroke="#ee4650" stroke-width="2.0"/>
<rect x="312.64" y="446.91" width="7.60" height="7.60" rx="0.8" fill="none" stroke="#ee4650" stroke-width="2.0"/>
<rect x="231.15" y="286.65" width="7.70" height="7.70" rx="0.8" fill="none" stroke="#ee4650" stroke-width="1.9"/>
<text x="246.00" y="295.80" font-size="15.7" text-anchor="start" font-weight="bold" fill="#231815" stroke="#231815" stroke-width="0.15">Pyruvate</text>
<rect x="231.15" y="307.65" width="7.70" height="7.70" rx="0.8" fill="none" stroke="#2558b0" stroke-width="1.9"/>
<text x="246.00" y="316.80" font-size="15.7" text-anchor="start" font-weight="bold" fill="#231815" stroke="#231815" stroke-width="0.15">Glutamate</text>
<rect x="231.15" y="328.65" width="7.70" height="7.70" rx="0.8" fill="none" stroke="#8049ae" stroke-width="1.9"/>
<text x="246.00" y="337.80" font-size="15.7" text-anchor="start" font-weight="bold" fill="#231815" stroke="#231815" stroke-width="0.15">Aspartate</text>
<line x1="155.10" y1="441.00" x2="155.10" y2="453.00" stroke="#c8237a" stroke-width="2.8"/>
<polygon points="152.00,452.20 158.20,452.20 155.10,463.00" fill="#c8237a"/>
<text x="141.00" y="300.00" font-size="15.5" text-anchor="start" font-weight="bold" fill="#e8202a" stroke="#e8202a" stroke-width="0.15">3. SAR</text>
<text transform="translate(1.80 266.50) scale(0.92 1)" font-size="14.8" fill="#111">B</text>
<rect x="154.30" y="793.80" width="171.70" height="188.20" fill="#cbc7ca"/>
<rect x="43.50" y="793.80" width="282.50" height="188.20" fill="none" stroke="#231815" stroke-width="2.0"/>
<line x1="35.90" y1="982.00" x2="43.50" y2="982.00" stroke="#231815" stroke-width="2.0"/>
<text transform="translate(32.50 987.36) scale(1 1.055)" font-size="14.9" text-anchor="end" font-weight="bold" fill="#231815" stroke="#231815" stroke-width="0.15">0</text>
<line x1="35.90" y1="934.95" x2="43.50" y2="934.95" stroke="#231815" stroke-width="2.0"/>
<text transform="translate(32.50 940.31) scale(1 1.055)" font-size="14.9" text-anchor="end" font-weight="bold" fill="#231815" stroke="#231815" stroke-width="0.15">1</text>
<line x1="35.90" y1="887.90" x2="43.50" y2="887.90" stroke="#231815" stroke-width="2.0"/>
<text transform="translate(32.50 893.26) scale(1 1.055)" font-size="14.9" text-anchor="end" font-weight="bold" fill="#231815" stroke="#231815" stroke-width="0.15">2</text>
<line x1="35.90" y1="840.85" x2="43.50" y2="840.85" stroke="#231815" stroke-width="2.0"/>
<text transform="translate(32.50 846.21) scale(1 1.055)" font-size="14.9" text-anchor="end" font-weight="bold" fill="#231815" stroke="#231815" stroke-width="0.15">3</text>
<line x1="35.90" y1="793.80" x2="43.50" y2="793.80" stroke="#231815" stroke-width="2.0"/>
<text transform="translate(32.50 799.16) scale(1 1.055)" font-size="14.9" text-anchor="end" font-weight="bold" fill="#231815" stroke="#231815" stroke-width="0.15">4</text>
<line x1="73.60" y1="982.00" x2="73.60" y2="990.30" stroke="#231815" stroke-width="2.0"/>
<text transform="translate(73.60 1007.00) scale(1 1.055)" font-size="14.9" text-anchor="middle" font-weight="bold" fill="#231815" stroke="#231815" stroke-width="0.15">26</text>
<line x1="113.94" y1="982.00" x2="113.94" y2="990.30" stroke="#231815" stroke-width="2.0"/>
<text transform="translate(113.94 1007.00) scale(1 1.055)" font-size="14.9" text-anchor="middle" font-weight="bold" fill="#231815" stroke="#231815" stroke-width="0.15">28</text>
<line x1="154.28" y1="982.00" x2="154.28" y2="990.30" stroke="#231815" stroke-width="2.0"/>
<text transform="translate(154.28 1007.00) scale(1 1.055)" font-size="14.9" text-anchor="middle" font-weight="bold" fill="#231815" stroke="#231815" stroke-width="0.15">30</text>
<line x1="194.62" y1="982.00" x2="194.62" y2="990.30" stroke="#231815" stroke-width="2.0"/>
<text transform="translate(194.62 1007.00) scale(1 1.055)" font-size="14.9" text-anchor="middle" font-weight="bold" fill="#231815" stroke="#231815" stroke-width="0.15">32</text>
<line x1="234.96" y1="982.00" x2="234.96" y2="990.30" stroke="#231815" stroke-width="2.0"/>
<text transform="translate(234.96 1007.00) scale(1 1.055)" font-size="14.9" text-anchor="middle" font-weight="bold" fill="#231815" stroke="#231815" stroke-width="0.15">34</text>
<line x1="275.30" y1="982.00" x2="275.30" y2="990.30" stroke="#231815" stroke-width="2.0"/>
<text transform="translate(275.30 1007.00) scale(1 1.055)" font-size="14.9" text-anchor="middle" font-weight="bold" fill="#231815" stroke="#231815" stroke-width="0.15">36</text>
<line x1="315.64" y1="982.00" x2="315.64" y2="990.30" stroke="#231815" stroke-width="2.0"/>
<text transform="translate(315.64 1007.00) scale(1 1.055)" font-size="14.9" text-anchor="middle" font-weight="bold" fill="#231815" stroke="#231815" stroke-width="0.15">38</text>
<text x="111.00" y="789.00" font-size="15.7" text-anchor="start" font-weight="bold" fill="#231815" stroke="#231815" stroke-width="0.15">Public goods in CDMS</text>
<text x="17.00" y="886.60" font-size="15.5" text-anchor="middle" font-weight="bold" fill="#231815" stroke="#231815" stroke-width="0.15" transform="rotate(-90 17 886.6)">Concentration (mM)</text>
<text x="184.80" y="1020.00" font-size="15.8" text-anchor="middle" font-weight="bold" fill="#231815" stroke="#231815" stroke-width="0.15">Time (h)</text>
<line x1="53.43" y1="943.42" x2="73.60" y2="938.71" stroke="#8049ae" stroke-width="2.8" stroke-linecap="round" stroke-dasharray="5.6,8.2"/>
<line x1="73.60" y1="938.71" x2="93.77" y2="932.13" stroke="#8049ae" stroke-width="2.8" stroke-linecap="round" stroke-dasharray="5.6,8.2"/>
<line x1="93.77" y1="932.13" x2="113.94" y2="918.01" stroke="#8049ae" stroke-width="2.8" stroke-linecap="round" stroke-dasharray="5.6,8.2"/>
<line x1="113.94" y1="918.01" x2="134.11" y2="902.01" stroke="#8049ae" stroke-width="2.8" stroke-linecap="round" stroke-dasharray="5.6,8.2"/>
<line x1="134.11" y1="902.01" x2="154.28" y2="889.31" stroke="#8049ae" stroke-width="2.8" stroke-linecap="round" stroke-dasharray="5.6,8.2"/>
<line x1="154.28" y1="889.31" x2="174.45" y2="890.72" stroke="#8049ae" stroke-width="2.8" stroke-linecap="round" stroke-dasharray="5.6,8.2"/>
<line x1="174.45" y1="890.72" x2="194.62" y2="905.31" stroke="#8049ae" stroke-width="2.8" stroke-linecap="round" stroke-dasharray="5.6,8.2"/>
<line x1="194.62" y1="905.31" x2="214.79" y2="919.42" stroke="#8049ae" stroke-width="2.8" stroke-linecap="round" stroke-dasharray="5.6,8.2"/>
<line x1="214.79" y1="919.42" x2="234.96" y2="931.66" stroke="#8049ae" stroke-width="2.8" stroke-linecap="round" stroke-dasharray="5.6,8.2"/>
<line x1="234.96" y1="931.66" x2="255.13" y2="938.24" stroke="#8049ae" stroke-width="2.8" stroke-linecap="round" stroke-dasharray="5.6,8.2"/>
<line x1="255.13" y1="938.24" x2="275.30" y2="946.71" stroke="#8049ae" stroke-width="2.8" stroke-linecap="round" stroke-dasharray="5.6,8.2"/>
<line x1="275.30" y1="946.71" x2="295.47" y2="951.42" stroke="#8049ae" stroke-width="2.8" stroke-linecap="round" stroke-dasharray="5.6,8.2"/>
<line x1="295.47" y1="951.42" x2="315.64" y2="960.12" stroke="#8049ae" stroke-width="2.8" stroke-linecap="round" stroke-dasharray="5.6,8.2"/>
<rect x="49.63" y="939.62" width="7.60" height="7.60" rx="0.8" fill="none" stroke="#8049ae" stroke-width="2.0"/>
<rect x="69.80" y="934.91" width="7.60" height="7.60" rx="0.8" fill="none" stroke="#8049ae" stroke-width="2.0"/>
<rect x="89.97" y="928.33" width="7.60" height="7.60" rx="0.8" fill="none" stroke="#8049ae" stroke-width="2.0"/>
<rect x="110.14" y="914.21" width="7.60" height="7.60" rx="0.8" fill="none" stroke="#8049ae" stroke-width="2.0"/>
<rect x="130.31" y="898.22" width="7.60" height="7.60" rx="0.8" fill="none" stroke="#8049ae" stroke-width="2.0"/>
<rect x="150.48" y="885.51" width="7.60" height="7.60" rx="0.8" fill="none" stroke="#8049ae" stroke-width="2.0"/>
<rect x="170.65" y="886.92" width="7.60" height="7.60" rx="0.8" fill="none" stroke="#8049ae" stroke-width="2.0"/>
<rect x="190.82" y="901.51" width="7.60" height="7.60" rx="0.8" fill="none" stroke="#8049ae" stroke-width="2.0"/>
<rect x="210.99" y="915.62" width="7.60" height="7.60" rx="0.8" fill="none" stroke="#8049ae" stroke-width="2.0"/>
<rect x="231.16" y="927.86" width="7.60" height="7.60" rx="0.8" fill="none" stroke="#8049ae" stroke-width="2.0"/>
<rect x="251.33" y="934.44" width="7.60" height="7.60" rx="0.8" fill="none" stroke="#8049ae" stroke-width="2.0"/>
<rect x="271.50" y="942.91" width="7.60" height="7.60" rx="0.8" fill="none" stroke="#8049ae" stroke-width="2.0"/>
<rect x="291.67" y="947.62" width="7.60" height="7.60" rx="0.8" fill="none" stroke="#8049ae" stroke-width="2.0"/>
<rect x="311.84" y="956.32" width="7.60" height="7.60" rx="0.8" fill="none" stroke="#8049ae" stroke-width="2.0"/>
<line x1="53.43" y1="913.78" x2="73.60" y2="906.25" stroke="#2558b0" stroke-width="2.8" stroke-linecap="round" stroke-dasharray="5.6,8.2"/>
<line x1="73.60" y1="906.25" x2="93.77" y2="896.84" stroke="#2558b0" stroke-width="2.8" stroke-linecap="round" stroke-dasharray="5.6,8.2"/>
<line x1="93.77" y1="896.84" x2="113.94" y2="888.84" stroke="#2558b0" stroke-width="2.8" stroke-linecap="round" stroke-dasharray="5.6,8.2"/>
<line x1="113.94" y1="888.84" x2="134.11" y2="875.67" stroke="#2558b0" stroke-width="2.8" stroke-linecap="round" stroke-dasharray="5.6,8.2"/>
<line x1="134.11" y1="875.67" x2="154.28" y2="864.38" stroke="#2558b0" stroke-width="2.8" stroke-linecap="round" stroke-dasharray="5.6,8.2"/>
<line x1="154.28" y1="864.38" x2="174.45" y2="867.20" stroke="#2558b0" stroke-width="2.8" stroke-linecap="round" stroke-dasharray="5.6,8.2"/>
<line x1="174.45" y1="867.20" x2="194.62" y2="878.49" stroke="#2558b0" stroke-width="2.8" stroke-linecap="round" stroke-dasharray="5.6,8.2"/>
<line x1="194.62" y1="878.49" x2="214.79" y2="895.90" stroke="#2558b0" stroke-width="2.8" stroke-linecap="round" stroke-dasharray="5.6,8.2"/>
<line x1="214.79" y1="895.90" x2="234.96" y2="917.54" stroke="#2558b0" stroke-width="2.8" stroke-linecap="round" stroke-dasharray="5.6,8.2"/>
<line x1="234.96" y1="917.54" x2="255.13" y2="928.83" stroke="#2558b0" stroke-width="2.8" stroke-linecap="round" stroke-dasharray="5.6,8.2"/>
<line x1="255.13" y1="928.83" x2="275.30" y2="942.95" stroke="#2558b0" stroke-width="2.8" stroke-linecap="round" stroke-dasharray="5.6,8.2"/>
<line x1="275.30" y1="942.95" x2="295.47" y2="951.89" stroke="#2558b0" stroke-width="2.8" stroke-linecap="round" stroke-dasharray="5.6,8.2"/>
<line x1="295.47" y1="951.89" x2="315.64" y2="955.42" stroke="#2558b0" stroke-width="2.8" stroke-linecap="round" stroke-dasharray="5.6,8.2"/>
<rect x="49.63" y="909.98" width="7.60" height="7.60" rx="0.8" fill="none" stroke="#2558b0" stroke-width="2.0"/>
<rect x="69.80" y="902.45" width="7.60" height="7.60" rx="0.8" fill="none" stroke="#2558b0" stroke-width="2.0"/>
<rect x="89.97" y="893.04" width="7.60" height="7.60" rx="0.8" fill="none" stroke="#2558b0" stroke-width="2.0"/>
<rect x="110.14" y="885.04" width="7.60" height="7.60" rx="0.8" fill="none" stroke="#2558b0" stroke-width="2.0"/>
<rect x="130.31" y="871.87" width="7.60" height="7.60" rx="0.8" fill="none" stroke="#2558b0" stroke-width="2.0"/>
<rect x="150.48" y="860.58" width="7.60" height="7.60" rx="0.8" fill="none" stroke="#2558b0" stroke-width="2.0"/>
<rect x="170.65" y="863.40" width="7.60" height="7.60" rx="0.8" fill="none" stroke="#2558b0" stroke-width="2.0"/>
<rect x="190.82" y="874.69" width="7.60" height="7.60" rx="0.8" fill="none" stroke="#2558b0" stroke-width="2.0"/>
<rect x="210.99" y="892.10" width="7.60" height="7.60" rx="0.8" fill="none" stroke="#2558b0" stroke-width="2.0"/>
<rect x="231.16" y="913.74" width="7.60" height="7.60" rx="0.8" fill="none" stroke="#2558b0" stroke-width="2.0"/>
<rect x="251.33" y="925.03" width="7.60" height="7.60" rx="0.8" fill="none" stroke="#2558b0" stroke-width="2.0"/>
<rect x="271.50" y="939.15" width="7.60" height="7.60" rx="0.8" fill="none" stroke="#2558b0" stroke-width="2.0"/>
<rect x="291.67" y="948.09" width="7.60" height="7.60" rx="0.8" fill="none" stroke="#2558b0" stroke-width="2.0"/>
<rect x="311.84" y="951.62" width="7.60" height="7.60" rx="0.8" fill="none" stroke="#2558b0" stroke-width="2.0"/>
<line x1="53.43" y1="905.31" x2="73.60" y2="899.66" stroke="#ee4650" stroke-width="2.8" stroke-linecap="round" stroke-dasharray="5.6,8.2"/>
<line x1="73.60" y1="899.66" x2="93.77" y2="887.43" stroke="#ee4650" stroke-width="2.8" stroke-linecap="round" stroke-dasharray="5.6,8.2"/>
<line x1="93.77" y1="887.43" x2="113.94" y2="862.96" stroke="#ee4650" stroke-width="2.8" stroke-linecap="round" stroke-dasharray="5.6,8.2"/>
<line x1="113.94" y1="862.96" x2="134.11" y2="836.62" stroke="#ee4650" stroke-width="2.8" stroke-linecap="round" stroke-dasharray="5.6,8.2"/>
<line x1="134.11" y1="836.62" x2="154.28" y2="822.97" stroke="#ee4650" stroke-width="2.8" stroke-linecap="round" stroke-dasharray="5.6,8.2"/>
<line x1="154.28" y1="822.97" x2="174.45" y2="826.26" stroke="#ee4650" stroke-width="2.8" stroke-linecap="round" stroke-dasharray="5.6,8.2"/>
<line x1="174.45" y1="826.26" x2="194.62" y2="848.85" stroke="#ee4650" stroke-width="2.8" stroke-linecap="round" stroke-dasharray="5.6,8.2"/>
<line x1="194.62" y1="848.85" x2="214.79" y2="874.73" stroke="#ee4650" stroke-width="2.8" stroke-linecap="round" stroke-dasharray="5.6,8.2"/>
<line x1="214.79" y1="874.73" x2="234.96" y2="901.54" stroke="#ee4650" stroke-width="2.8" stroke-linecap="round" stroke-dasharray="5.6,8.2"/>
<line x1="234.96" y1="901.54" x2="255.13" y2="922.72" stroke="#ee4650" stroke-width="2.8" stroke-linecap="round" stroke-dasharray="5.6,8.2"/>
<line x1="255.13" y1="922.72" x2="275.30" y2="942.48" stroke="#ee4650" stroke-width="2.8" stroke-linecap="round" stroke-dasharray="5.6,8.2"/>
<line x1="275.30" y1="942.48" x2="295.47" y2="947.65" stroke="#ee4650" stroke-width="2.8" stroke-linecap="round" stroke-dasharray="5.6,8.2"/>
<line x1="295.47" y1="947.65" x2="315.64" y2="950.95" stroke="#ee4650" stroke-width="2.8" stroke-linecap="round" stroke-dasharray="5.6,8.2"/>
<rect x="49.63" y="901.51" width="7.60" height="7.60" rx="0.8" fill="none" stroke="#ee4650" stroke-width="2.0"/>
<rect x="69.80" y="895.86" width="7.60" height="7.60" rx="0.8" fill="none" stroke="#ee4650" stroke-width="2.0"/>
<rect x="89.97" y="883.63" width="7.60" height="7.60" rx="0.8" fill="none" stroke="#ee4650" stroke-width="2.0"/>
<rect x="110.14" y="859.16" width="7.60" height="7.60" rx="0.8" fill="none" stroke="#ee4650" stroke-width="2.0"/>
<rect x="130.31" y="832.82" width="7.60" height="7.60" rx="0.8" fill="none" stroke="#ee4650" stroke-width="2.0"/>
<rect x="150.48" y="819.17" width="7.60" height="7.60" rx="0.8" fill="none" stroke="#ee4650" stroke-width="2.0"/>
<rect x="170.65" y="822.46" width="7.60" height="7.60" rx="0.8" fill="none" stroke="#ee4650" stroke-width="2.0"/>
<rect x="190.82" y="845.05" width="7.60" height="7.60" rx="0.8" fill="none" stroke="#ee4650" stroke-width="2.0"/>
<rect x="210.99" y="870.93" width="7.60" height="7.60" rx="0.8" fill="none" stroke="#ee4650" stroke-width="2.0"/>
<rect x="231.16" y="897.74" width="7.60" height="7.60" rx="0.8" fill="none" stroke="#ee4650" stroke-width="2.0"/>
<rect x="251.33" y="918.92" width="7.60" height="7.60" rx="0.8" fill="none" stroke="#ee4650" stroke-width="2.0"/>
<rect x="271.50" y="938.68" width="7.60" height="7.60" rx="0.8" fill="none" stroke="#ee4650" stroke-width="2.0"/>
<rect x="291.67" y="943.85" width="7.60" height="7.60" rx="0.8" fill="none" stroke="#ee4650" stroke-width="2.0"/>
<rect x="311.84" y="947.15" width="7.60" height="7.60" rx="0.8" fill="none" stroke="#ee4650" stroke-width="2.0"/>
<rect x="231.15" y="801.65" width="7.70" height="7.70" rx="0.8" fill="none" stroke="#ee4650" stroke-width="1.9"/>
<text x="246.00" y="810.80" font-size="15.7" text-anchor="start" font-weight="bold" fill="#231815" stroke="#231815" stroke-width="0.15">Pyruvate</text>
<rect x="231.15" y="823.65" width="7.70" height="7.70" rx="0.8" fill="none" stroke="#2558b0" stroke-width="1.9"/>
<text x="246.00" y="832.80" font-size="15.7" text-anchor="start" font-weight="bold" fill="#231815" stroke="#231815" stroke-width="0.15">Glutamate</text>
<rect x="231.15" y="845.65" width="7.70" height="7.70" rx="0.8" fill="none" stroke="#8049ae" stroke-width="1.9"/>
<text x="246.00" y="854.80" font-size="15.7" text-anchor="start" font-weight="bold" fill="#231815" stroke="#231815" stroke-width="0.15">Aspartate</text>
<line x1="154.30" y1="958.80" x2="154.30" y2="971.00" stroke="#c8237a" stroke-width="2.8"/>
<polygon points="151.20,970.20 157.40,970.20 154.30,981.00" fill="#c8237a"/>
<linearGradient id="sg" gradientUnits="userSpaceOnUse" x1="154.30" y1="0" x2="154.31" y2="0"><stop offset="0" stop-color="#ea1c26"/><stop offset="1" stop-color="#d64232"/></linearGradient>
<text x="145.00" y="814.20" font-size="15.5" font-weight="bold" fill="url(#sg)" stroke="url(#sg)" stroke-width="0.15">3. SAR</text>
<text transform="translate(1.60 788.70) scale(0.92 1)" font-size="14.8" fill="#111">F</text>
<rect x="398.60" y="279.90" width="282.90" height="188.10" fill="none" stroke="#231815" stroke-width="2.0"/>
<line x1="391.00" y1="468.00" x2="398.60" y2="468.00" stroke="#231815" stroke-width="2.0"/>
<text transform="translate(388.60 474.36) scale(1 1.055)" font-size="14.9" text-anchor="end" font-weight="bold" fill="#231815" stroke="#231815" stroke-width="0.15">0</text>
<line x1="391.00" y1="430.38" x2="398.60" y2="430.38" stroke="#231815" stroke-width="2.0"/>
<text transform="translate(388.60 436.74) scale(1 1.055)" font-size="14.9" text-anchor="end" font-weight="bold" fill="#231815" stroke="#231815" stroke-width="0.15">1</text>
<line x1="391.00" y1="392.76" x2="398.60" y2="392.76" stroke="#231815" stroke-width="2.0"/>
<text transform="translate(388.60 399.12) scale(1 1.055)" font-size="14.9" text-anchor="end" font-weight="bold" fill="#231815" stroke="#231815" stroke-width="0.15">2</text>
<line x1="391.00" y1="355.14" x2="398.60" y2="355.14" stroke="#231815" stroke-width="2.0"/>
<text transform="translate(388.60 361.50) scale(1 1.055)" font-size="14.9" text-anchor="end" font-weight="bold" fill="#231815" stroke="#231815" stroke-width="0.15">3</text>
<line x1="391.00" y1="317.52" x2="398.60" y2="317.52" stroke="#231815" stroke-width="2.0"/>
<text transform="translate(388.60 323.88) scale(1 1.055)" font-size="14.9" text-anchor="end" font-weight="bold" fill="#231815" stroke="#231815" stroke-width="0.15">4</text>
<line x1="391.00" y1="279.90" x2="398.60" y2="279.90" stroke="#231815" stroke-width="2.0"/>
<text transform="translate(388.60 286.26) scale(1 1.055)" font-size="14.9" text-anchor="end" font-weight="bold" fill="#231815" stroke="#231815" stroke-width="0.15">5</text>
<line x1="413.00" y1="468.00" x2="413.00" y2="476.30" stroke="#231815" stroke-width="2.0"/>
<text transform="translate(413.00 493.00) scale(1 1.055)" font-size="14.9" text-anchor="middle" font-weight="bold" fill="#231815" stroke="#231815" stroke-width="0.15">0</text>
<line x1="441.27" y1="468.00" x2="441.27" y2="476.30" stroke="#231815" stroke-width="2.0"/>
<text transform="translate(441.27 493.00) scale(1 1.055)" font-size="14.9" text-anchor="middle" font-weight="bold" fill="#231815" stroke="#231815" stroke-width="0.15">1</text>
<line x1="469.54" y1="468.00" x2="469.54" y2="476.30" stroke="#231815" stroke-width="2.0"/>
<text transform="translate(469.54 493.00) scale(1 1.055)" font-size="14.9" text-anchor="middle" font-weight="bold" fill="#231815" stroke="#231815" stroke-width="0.15">2</text>
<line x1="497.81" y1="468.00" x2="497.81" y2="476.30" stroke="#231815" stroke-width="2.0"/>
<text transform="translate(497.81 493.00) scale(1 1.055)" font-size="14.9" text-anchor="middle" font-weight="bold" fill="#231815" stroke="#231815" stroke-width="0.15">3</text>
<line x1="526.08" y1="468.00" x2="526.08" y2="476.30" stroke="#231815" stroke-width="2.0"/>
<text transform="translate(526.08 493.00) scale(1 1.055)" font-size="14.9" text-anchor="middle" font-weight="bold" fill="#231815" stroke="#231815" stroke-width="0.15">4</text>
<line x1="554.35" y1="468.00" x2="554.35" y2="476.30" stroke="#231815" stroke-width="2.0"/>
<text transform="translate(554.35 493.00) scale(1 1.055)" font-size="14.9" text-anchor="middle" font-weight="bold" fill="#231815" stroke="#231815" stroke-width="0.15">5</text>
<line x1="582.62" y1="468.00" x2="582.62" y2="476.30" stroke="#231815" stroke-width="2.0"/>
<text transform="translate(582.62 493.00) scale(1 1.055)" font-size="14.9" text-anchor="middle" font-weight="bold" fill="#231815" stroke="#231815" stroke-width="0.15">6</text>
<line x1="610.89" y1="468.00" x2="610.89" y2="476.30" stroke="#231815" stroke-width="2.0"/>
<text transform="translate(610.89 493.00) scale(1 1.055)" font-size="14.9" text-anchor="middle" font-weight="bold" fill="#231815" stroke="#231815" stroke-width="0.15">7</text>
<line x1="639.16" y1="468.00" x2="639.16" y2="476.30" stroke="#231815" stroke-width="2.0"/>
<text transform="translate(639.16 493.00) scale(1 1.055)" font-size="14.9" text-anchor="middle" font-weight="bold" fill="#231815" stroke="#231815" stroke-width="0.15">7.5</text>
<line x1="667.43" y1="468.00" x2="667.43" y2="476.30" stroke="#231815" stroke-width="2.0"/>
<text transform="translate(667.43 493.00) scale(1 1.055)" font-size="14.9" text-anchor="middle" font-weight="bold" fill="#231815" stroke="#231815" stroke-width="0.15">8</text>
<text x="450.00" y="275.00" font-size="15.7" text-anchor="start" font-weight="bold" fill="#231815" stroke="#231815" stroke-width="0.15">Monoculture LJ9 in CDMG</text>
<text x="373.00" y="372.60" font-size="15.6" text-anchor="middle" font-weight="bold" fill="#231815" stroke="#231815" stroke-width="0.15" transform="rotate(-90 373 372.6)">Concentration (mM)</text>
<text x="540.60" y="508.30" font-size="15.8" text-anchor="middle" font-weight="bold" fill="#231815" stroke="#231815" stroke-width="0.15">Time (h)</text>
<line x1="413.00" y1="385.24" x2="441.27" y2="391.26" stroke="#8049ae" stroke-width="2.8" stroke-linecap="round" stroke-dasharray="5.6,8.2"/>
<line x1="441.27" y1="391.26" x2="469.54" y2="398.40" stroke="#8049ae" stroke-width="2.8" stroke-linecap="round" stroke-dasharray="5.6,8.2"/>
<line x1="469.54" y1="398.40" x2="497.81" y2="402.16" stroke="#8049ae" stroke-width="2.8" stroke-linecap="round" stroke-dasharray="5.6,8.2"/>
<line x1="497.81" y1="402.16" x2="526.08" y2="410.44" stroke="#8049ae" stroke-width="2.8" stroke-linecap="round" stroke-dasharray="5.6,8.2"/>
<line x1="526.08" y1="410.44" x2="554.35" y2="414.58" stroke="#8049ae" stroke-width="2.8" stroke-linecap="round" stroke-dasharray="5.6,8.2"/>
<line x1="554.35" y1="414.58" x2="582.62" y2="421.73" stroke="#8049ae" stroke-width="2.8" stroke-linecap="round" stroke-dasharray="5.6,8.2"/>
<line x1="582.62" y1="421.73" x2="610.89" y2="429.63" stroke="#8049ae" stroke-width="2.8" stroke-linecap="round" stroke-dasharray="5.6,8.2"/>
<line x1="610.89" y1="429.63" x2="639.16" y2="431.88" stroke="#8049ae" stroke-width="2.8" stroke-linecap="round" stroke-dasharray="5.6,8.2"/>
<line x1="639.16" y1="431.88" x2="667.43" y2="439.03" stroke="#8049ae" stroke-width="2.8" stroke-linecap="round" stroke-dasharray="5.6,8.2"/>
<rect x="409.20" y="381.44" width="7.60" height="7.60" rx="0.8" fill="none" stroke="#8049ae" stroke-width="2.0"/>
<rect x="437.47" y="387.46" width="7.60" height="7.60" rx="0.8" fill="none" stroke="#8049ae" stroke-width="2.0"/>
<rect x="465.74" y="394.60" width="7.60" height="7.60" rx="0.8" fill="none" stroke="#8049ae" stroke-width="2.0"/>
<rect x="494.01" y="398.36" width="7.60" height="7.60" rx="0.8" fill="none" stroke="#8049ae" stroke-width="2.0"/>
<rect x="522.28" y="406.64" width="7.60" height="7.60" rx="0.8" fill="none" stroke="#8049ae" stroke-width="2.0"/>
<rect x="550.55" y="410.78" width="7.60" height="7.60" rx="0.8" fill="none" stroke="#8049ae" stroke-width="2.0"/>
<rect x="578.82" y="417.93" width="7.60" height="7.60" rx="0.8" fill="none" stroke="#8049ae" stroke-width="2.0"/>
<rect x="607.09" y="425.83" width="7.60" height="7.60" rx="0.8" fill="none" stroke="#8049ae" stroke-width="2.0"/>
<rect x="635.36" y="428.08" width="7.60" height="7.60" rx="0.8" fill="none" stroke="#8049ae" stroke-width="2.0"/>
<rect x="663.63" y="435.23" width="7.60" height="7.60" rx="0.8" fill="none" stroke="#8049ae" stroke-width="2.0"/>
<line x1="413.00" y1="370.19" x2="441.27" y2="372.82" stroke="#2558b0" stroke-width="2.8" stroke-linecap="round" stroke-dasharray="5.6,8.2"/>
<line x1="441.27" y1="372.82" x2="469.54" y2="376.58" stroke="#2558b0" stroke-width="2.8" stroke-linecap="round" stroke-dasharray="5.6,8.2"/>
<line x1="469.54" y1="376.58" x2="497.81" y2="383.36" stroke="#2558b0" stroke-width="2.8" stroke-linecap="round" stroke-dasharray="5.6,8.2"/>
<line x1="497.81" y1="383.36" x2="526.08" y2="395.39" stroke="#2558b0" stroke-width="2.8" stroke-linecap="round" stroke-dasharray="5.6,8.2"/>
<line x1="526.08" y1="395.39" x2="554.35" y2="401.41" stroke="#2558b0" stroke-width="2.8" stroke-linecap="round" stroke-dasharray="5.6,8.2"/>
<line x1="554.35" y1="401.41" x2="582.62" y2="411.95" stroke="#2558b0" stroke-width="2.8" stroke-linecap="round" stroke-dasharray="5.6,8.2"/>
<line x1="582.62" y1="411.95" x2="610.89" y2="423.61" stroke="#2558b0" stroke-width="2.8" stroke-linecap="round" stroke-dasharray="5.6,8.2"/>
<line x1="610.89" y1="423.61" x2="639.16" y2="436.02" stroke="#2558b0" stroke-width="2.8" stroke-linecap="round" stroke-dasharray="5.6,8.2"/>
<line x1="639.16" y1="436.02" x2="667.43" y2="445.43" stroke="#2558b0" stroke-width="2.8" stroke-linecap="round" stroke-dasharray="5.6,8.2"/>
<rect x="409.20" y="366.39" width="7.60" height="7.60" rx="0.8" fill="none" stroke="#2558b0" stroke-width="2.0"/>
<rect x="437.47" y="369.02" width="7.60" height="7.60" rx="0.8" fill="none" stroke="#2558b0" stroke-width="2.0"/>
<rect x="465.74" y="372.78" width="7.60" height="7.60" rx="0.8" fill="none" stroke="#2558b0" stroke-width="2.0"/>
<rect x="494.01" y="379.56" width="7.60" height="7.60" rx="0.8" fill="none" stroke="#2558b0" stroke-width="2.0"/>
<rect x="522.28" y="391.59" width="7.60" height="7.60" rx="0.8" fill="none" stroke="#2558b0" stroke-width="2.0"/>
<rect x="550.55" y="397.61" width="7.60" height="7.60" rx="0.8" fill="none" stroke="#2558b0" stroke-width="2.0"/>
<rect x="578.82" y="408.15" width="7.60" height="7.60" rx="0.8" fill="none" stroke="#2558b0" stroke-width="2.0"/>
<rect x="607.09" y="419.81" width="7.60" height="7.60" rx="0.8" fill="none" stroke="#2558b0" stroke-width="2.0"/>
<rect x="635.36" y="432.22" width="7.60" height="7.60" rx="0.8" fill="none" stroke="#2558b0" stroke-width="2.0"/>
<rect x="663.63" y="441.63" width="7.60" height="7.60" rx="0.8" fill="none" stroke="#2558b0" stroke-width="2.0"/>
<line x1="413.00" y1="310.00" x2="441.27" y2="316.77" stroke="#ee4650" stroke-width="2.8" stroke-linecap="round" stroke-dasharray="5.6,8.2"/>
<line x1="441.27" y1="316.77" x2="469.54" y2="322.41" stroke="#ee4650" stroke-width="2.8" stroke-linecap="round" stroke-dasharray="5.6,8.2"/>
<line x1="469.54" y1="322.41" x2="497.81" y2="334.07" stroke="#ee4650" stroke-width="2.8" stroke-linecap="round" stroke-dasharray="5.6,8.2"/>
<line x1="497.81" y1="334.07" x2="526.08" y2="347.99" stroke="#ee4650" stroke-width="2.8" stroke-linecap="round" stroke-dasharray="5.6,8.2"/>
<line x1="526.08" y1="347.99" x2="554.35" y2="368.31" stroke="#ee4650" stroke-width="2.8" stroke-linecap="round" stroke-dasharray="5.6,8.2"/>
<line x1="554.35" y1="368.31" x2="582.62" y2="385.61" stroke="#ee4650" stroke-width="2.8" stroke-linecap="round" stroke-dasharray="5.6,8.2"/>
<line x1="582.62" y1="385.61" x2="610.89" y2="405.17" stroke="#ee4650" stroke-width="2.8" stroke-linecap="round" stroke-dasharray="5.6,8.2"/>
<line x1="610.89" y1="405.17" x2="639.16" y2="422.48" stroke="#ee4650" stroke-width="2.8" stroke-linecap="round" stroke-dasharray="5.6,8.2"/>
<line x1="639.16" y1="422.48" x2="667.43" y2="434.52" stroke="#ee4650" stroke-width="2.8" stroke-linecap="round" stroke-dasharray="5.6,8.2"/>
<rect x="409.20" y="306.20" width="7.60" height="7.60" rx="0.8" fill="none" stroke="#ee4650" stroke-width="2.0"/>
<rect x="437.47" y="312.97" width="7.60" height="7.60" rx="0.8" fill="none" stroke="#ee4650" stroke-width="2.0"/>
<rect x="465.74" y="318.61" width="7.60" height="7.60" rx="0.8" fill="none" stroke="#ee4650" stroke-width="2.0"/>
<rect x="494.01" y="330.27" width="7.60" height="7.60" rx="0.8" fill="none" stroke="#ee4650" stroke-width="2.0"/>
<rect x="522.28" y="344.19" width="7.60" height="7.60" rx="0.8" fill="none" stroke="#ee4650" stroke-width="2.0"/>
<rect x="550.55" y="364.51" width="7.60" height="7.60" rx="0.8" fill="none" stroke="#ee4650" stroke-width="2.0"/>
<rect x="578.82" y="381.81" width="7.60" height="7.60" rx="0.8" fill="none" stroke="#ee4650" stroke-width="2.0"/>
<rect x="607.09" y="401.37" width="7.60" height="7.60" rx="0.8" fill="none" stroke="#ee4650" stroke-width="2.0"/>
<rect x="635.36" y="418.68" width="7.60" height="7.60" rx="0.8" fill="none" stroke="#ee4650" stroke-width="2.0"/>
<rect x="663.63" y="430.72" width="7.60" height="7.60" rx="0.8" fill="none" stroke="#ee4650" stroke-width="2.0"/>
<rect x="578.35" y="287.15" width="7.70" height="7.70" rx="0.8" fill="none" stroke="#ee4650" stroke-width="1.9"/>
<text x="597.00" y="296.30" font-size="15.7" text-anchor="start" font-weight="bold" fill="#231815" stroke="#231815" stroke-width="0.15">Pyruvate</text>
<rect x="578.35" y="308.15" width="7.70" height="7.70" rx="0.8" fill="none" stroke="#2558b0" stroke-width="1.9"/>
<text x="597.00" y="317.30" font-size="15.7" text-anchor="start" font-weight="bold" fill="#231815" stroke="#231815" stroke-width="0.15">Glutamate</text>
<rect x="578.35" y="329.15" width="7.70" height="7.70" rx="0.8" fill="none" stroke="#8049ae" stroke-width="1.9"/>
<text x="597.00" y="338.30" font-size="15.7" text-anchor="start" font-weight="bold" fill="#231815" stroke="#231815" stroke-width="0.15">Aspartate</text>
<text transform="translate(354.20 273.60) scale(0.92 1)" font-size="14.8" fill="#111">D</text>
<rect x="401.50" y="794.00" width="282.50" height="188.00" fill="none" stroke="#231815" stroke-width="2.0"/>
<line x1="393.90" y1="982.00" x2="401.50" y2="982.00" stroke="#231815" stroke-width="2.0"/>
<text transform="translate(391.00 987.86) scale(1 1.055)" font-size="14.9" text-anchor="end" font-weight="bold" fill="#231815" stroke="#231815" stroke-width="0.15">0</text>
<line x1="393.90" y1="935.00" x2="401.50" y2="935.00" stroke="#231815" stroke-width="2.0"/>
<text transform="translate(391.00 940.86) scale(1 1.055)" font-size="14.9" text-anchor="end" font-weight="bold" fill="#231815" stroke="#231815" stroke-width="0.15">1</text>
<line x1="393.90" y1="888.00" x2="401.50" y2="888.00" stroke="#231815" stroke-width="2.0"/>
<text transform="translate(391.00 893.86) scale(1 1.055)" font-size="14.9" text-anchor="end" font-weight="bold" fill="#231815" stroke="#231815" stroke-width="0.15">2</text>
<line x1="393.90" y1="841.00" x2="401.50" y2="841.00" stroke="#231815" stroke-width="2.0"/>
<text transform="translate(391.00 846.86) scale(1 1.055)" font-size="14.9" text-anchor="end" font-weight="bold" fill="#231815" stroke="#231815" stroke-width="0.15">3</text>
<line x1="393.90" y1="794.00" x2="401.50" y2="794.00" stroke="#231815" stroke-width="2.0"/>
<text transform="translate(391.00 799.86) scale(1 1.055)" font-size="14.9" text-anchor="end" font-weight="bold" fill="#231815" stroke="#231815" stroke-width="0.15">4</text>
<line x1="415.40" y1="982.00" x2="415.40" y2="990.30" stroke="#231815" stroke-width="2.0"/>
<text transform="translate(415.40 1007.70) scale(1 1.055)" font-size="14.9" text-anchor="middle" font-weight="bold" fill="#231815" stroke="#231815" stroke-width="0.15">0</text>
<line x1="443.57" y1="982.00" x2="443.57" y2="990.30" stroke="#231815" stroke-width="2.0"/>
<text transform="translate(443.57 1007.70) scale(1 1.055)" font-size="14.9" text-anchor="middle" font-weight="bold" fill="#231815" stroke="#231815" stroke-width="0.15">1</text>
<line x1="471.74" y1="982.00" x2="471.74" y2="990.30" stroke="#231815" stroke-width="2.0"/>
<text transform="translate(471.74 1007.70) scale(1 1.055)" font-size="14.9" text-anchor="middle" font-weight="bold" fill="#231815" stroke="#231815" stroke-width="0.15">2</text>
<line x1="499.91" y1="982.00" x2="499.91" y2="990.30" stroke="#231815" stroke-width="2.0"/>
<text transform="translate(499.91 1007.70) scale(1 1.055)" font-size="14.9" text-anchor="middle" font-weight="bold" fill="#231815" stroke="#231815" stroke-width="0.15">3</text>
<line x1="528.08" y1="982.00" x2="528.08" y2="990.30" stroke="#231815" stroke-width="2.0"/>
<text transform="translate(528.08 1007.70) scale(1 1.055)" font-size="14.9" text-anchor="middle" font-weight="bold" fill="#231815" stroke="#231815" stroke-width="0.15">4</text>
<line x1="556.25" y1="982.00" x2="556.25" y2="990.30" stroke="#231815" stroke-width="2.0"/>
<text transform="translate(556.25 1007.70) scale(1 1.055)" font-size="14.9" text-anchor="middle" font-weight="bold" fill="#231815" stroke="#231815" stroke-width="0.15">5</text>
<line x1="584.42" y1="982.00" x2="584.42" y2="990.30" stroke="#231815" stroke-width="2.0"/>
<text transform="translate(584.42 1007.70) scale(1 1.055)" font-size="14.9" text-anchor="middle" font-weight="bold" fill="#231815" stroke="#231815" stroke-width="0.15">6</text>
<line x1="612.59" y1="982.00" x2="612.59" y2="990.30" stroke="#231815" stroke-width="2.0"/>
<text transform="translate(612.59 1007.70) scale(1 1.055)" font-size="14.9" text-anchor="middle" font-weight="bold" fill="#231815" stroke="#231815" stroke-width="0.15">7</text>
<line x1="640.76" y1="982.00" x2="640.76" y2="990.30" stroke="#231815" stroke-width="2.0"/>
<text transform="translate(640.76 1007.70) scale(1 1.055)" font-size="14.9" text-anchor="middle" font-weight="bold" fill="#231815" stroke="#231815" stroke-width="0.15">7.5</text>
<line x1="668.93" y1="982.00" x2="668.93" y2="990.30" stroke="#231815" stroke-width="2.0"/>
<text transform="translate(668.93 1007.70) scale(1 1.055)" font-size="14.9" text-anchor="middle" font-weight="bold" fill="#231815" stroke="#231815" stroke-width="0.15">8</text>
<text x="446.00" y="789.00" font-size="15.7" text-anchor="start" font-weight="bold" fill="#231815" stroke="#231815" stroke-width="0.15">Monoculture LJ9 in CDMS</text>
<text x="375.00" y="886.60" font-size="15.5" text-anchor="middle" font-weight="bold" fill="#231815" stroke="#231815" stroke-width="0.15" transform="rotate(-90 375 886.6)">Concentration (mM)</text>
<text x="543.00" y="1023.40" font-size="15.8" text-anchor="middle" font-weight="bold" fill="#231815" stroke="#231815" stroke-width="0.15">Time (h)</text>
<line x1="415.40" y1="888.47" x2="443.57" y2="891.76" stroke="#8049ae" stroke-width="2.8" stroke-linecap="round" stroke-dasharray="5.6,8.2"/>
<line x1="443.57" y1="891.76" x2="471.74" y2="901.63" stroke="#8049ae" stroke-width="2.8" stroke-linecap="round" stroke-dasharray="5.6,8.2"/>
<line x1="471.74" y1="901.63" x2="499.91" y2="911.50" stroke="#8049ae" stroke-width="2.8" stroke-linecap="round" stroke-dasharray="5.6,8.2"/>
<line x1="499.91" y1="911.50" x2="528.08" y2="925.13" stroke="#8049ae" stroke-width="2.8" stroke-linecap="round" stroke-dasharray="5.6,8.2"/>
<line x1="528.08" y1="925.13" x2="556.25" y2="933.59" stroke="#8049ae" stroke-width="2.8" stroke-linecap="round" stroke-dasharray="5.6,8.2"/>
<line x1="556.25" y1="933.59" x2="584.42" y2="941.58" stroke="#8049ae" stroke-width="2.8" stroke-linecap="round" stroke-dasharray="5.6,8.2"/>
<line x1="584.42" y1="941.58" x2="612.59" y2="953.33" stroke="#8049ae" stroke-width="2.8" stroke-linecap="round" stroke-dasharray="5.6,8.2"/>
<line x1="612.59" y1="953.33" x2="640.76" y2="958.03" stroke="#8049ae" stroke-width="2.8" stroke-linecap="round" stroke-dasharray="5.6,8.2"/>
<line x1="640.76" y1="958.03" x2="668.93" y2="960.38" stroke="#8049ae" stroke-width="2.8" stroke-linecap="round" stroke-dasharray="5.6,8.2"/>
<rect x="411.60" y="884.67" width="7.60" height="7.60" rx="0.8" fill="none" stroke="#8049ae" stroke-width="2.0"/>
<rect x="439.77" y="887.96" width="7.60" height="7.60" rx="0.8" fill="none" stroke="#8049ae" stroke-width="2.0"/>
<rect x="467.94" y="897.83" width="7.60" height="7.60" rx="0.8" fill="none" stroke="#8049ae" stroke-width="2.0"/>
<rect x="496.11" y="907.70" width="7.60" height="7.60" rx="0.8" fill="none" stroke="#8049ae" stroke-width="2.0"/>
<rect x="524.28" y="921.33" width="7.60" height="7.60" rx="0.8" fill="none" stroke="#8049ae" stroke-width="2.0"/>
<rect x="552.45" y="929.79" width="7.60" height="7.60" rx="0.8" fill="none" stroke="#8049ae" stroke-width="2.0"/>
<rect x="580.62" y="937.78" width="7.60" height="7.60" rx="0.8" fill="none" stroke="#8049ae" stroke-width="2.0"/>
<rect x="608.79" y="949.53" width="7.60" height="7.60" rx="0.8" fill="none" stroke="#8049ae" stroke-width="2.0"/>
<rect x="636.96" y="954.23" width="7.60" height="7.60" rx="0.8" fill="none" stroke="#8049ae" stroke-width="2.0"/>
<rect x="665.13" y="956.58" width="7.60" height="7.60" rx="0.8" fill="none" stroke="#8049ae" stroke-width="2.0"/>
<line x1="415.40" y1="864.97" x2="443.57" y2="867.32" stroke="#2558b0" stroke-width="2.8" stroke-linecap="round" stroke-dasharray="5.6,8.2"/>
<line x1="443.57" y1="867.32" x2="471.74" y2="877.66" stroke="#2558b0" stroke-width="2.8" stroke-linecap="round" stroke-dasharray="5.6,8.2"/>
<line x1="471.74" y1="877.66" x2="499.91" y2="887.53" stroke="#2558b0" stroke-width="2.8" stroke-linecap="round" stroke-dasharray="5.6,8.2"/>
<line x1="499.91" y1="887.53" x2="528.08" y2="895.05" stroke="#2558b0" stroke-width="2.8" stroke-linecap="round" stroke-dasharray="5.6,8.2"/>
<line x1="528.08" y1="895.05" x2="556.25" y2="906.33" stroke="#2558b0" stroke-width="2.8" stroke-linecap="round" stroke-dasharray="5.6,8.2"/>
<line x1="556.25" y1="906.33" x2="584.42" y2="919.96" stroke="#2558b0" stroke-width="2.8" stroke-linecap="round" stroke-dasharray="5.6,8.2"/>
<line x1="584.42" y1="919.96" x2="612.59" y2="931.24" stroke="#2558b0" stroke-width="2.8" stroke-linecap="round" stroke-dasharray="5.6,8.2"/>
<line x1="612.59" y1="931.24" x2="640.76" y2="943.46" stroke="#2558b0" stroke-width="2.8" stroke-linecap="round" stroke-dasharray="5.6,8.2"/>
<line x1="640.76" y1="943.46" x2="668.93" y2="956.15" stroke="#2558b0" stroke-width="2.8" stroke-linecap="round" stroke-dasharray="5.6,8.2"/>
<rect x="411.60" y="861.17" width="7.60" height="7.60" rx="0.8" fill="none" stroke="#2558b0" stroke-width="2.0"/>
<rect x="439.77" y="863.52" width="7.60" height="7.60" rx="0.8" fill="none" stroke="#2558b0" stroke-width="2.0"/>
<rect x="467.94" y="873.86" width="7.60" height="7.60" rx="0.8" fill="none" stroke="#2558b0" stroke-width="2.0"/>
<rect x="496.11" y="883.73" width="7.60" height="7.60" rx="0.8" fill="none" stroke="#2558b0" stroke-width="2.0"/>
<rect x="524.28" y="891.25" width="7.60" height="7.60" rx="0.8" fill="none" stroke="#2558b0" stroke-width="2.0"/>
<rect x="552.45" y="902.53" width="7.60" height="7.60" rx="0.8" fill="none" stroke="#2558b0" stroke-width="2.0"/>
<rect x="580.62" y="916.16" width="7.60" height="7.60" rx="0.8" fill="none" stroke="#2558b0" stroke-width="2.0"/>
<rect x="608.79" y="927.44" width="7.60" height="7.60" rx="0.8" fill="none" stroke="#2558b0" stroke-width="2.0"/>
<rect x="636.96" y="939.66" width="7.60" height="7.60" rx="0.8" fill="none" stroke="#2558b0" stroke-width="2.0"/>
<rect x="665.13" y="952.35" width="7.60" height="7.60" rx="0.8" fill="none" stroke="#2558b0" stroke-width="2.0"/>
<line x1="415.40" y1="822.67" x2="443.57" y2="826.90" stroke="#ee4650" stroke-width="2.8" stroke-linecap="round" stroke-dasharray="5.6,8.2"/>
<line x1="443.57" y1="826.90" x2="471.74" y2="833.01" stroke="#ee4650" stroke-width="2.8" stroke-linecap="round" stroke-dasharray="5.6,8.2"/>
<line x1="471.74" y1="833.01" x2="499.91" y2="848.52" stroke="#ee4650" stroke-width="2.8" stroke-linecap="round" stroke-dasharray="5.6,8.2"/>
<line x1="499.91" y1="848.52" x2="528.08" y2="864.03" stroke="#ee4650" stroke-width="2.8" stroke-linecap="round" stroke-dasharray="5.6,8.2"/>
<line x1="528.08" y1="864.03" x2="556.25" y2="881.89" stroke="#ee4650" stroke-width="2.8" stroke-linecap="round" stroke-dasharray="5.6,8.2"/>
<line x1="556.25" y1="881.89" x2="584.42" y2="899.75" stroke="#ee4650" stroke-width="2.8" stroke-linecap="round" stroke-dasharray="5.6,8.2"/>
<line x1="584.42" y1="899.75" x2="612.59" y2="925.60" stroke="#ee4650" stroke-width="2.8" stroke-linecap="round" stroke-dasharray="5.6,8.2"/>
<line x1="612.59" y1="925.60" x2="640.76" y2="943.46" stroke="#ee4650" stroke-width="2.8" stroke-linecap="round" stroke-dasharray="5.6,8.2"/>
<line x1="640.76" y1="943.46" x2="668.93" y2="951.92" stroke="#ee4650" stroke-width="2.8" stroke-linecap="round" stroke-dasharray="5.6,8.2"/>
<rect x="411.60" y="818.87" width="7.60" height="7.60" rx="0.8" fill="none" stroke="#ee4650" stroke-width="2.0"/>
<rect x="439.77" y="823.10" width="7.60" height="7.60" rx="0.8" fill="none" stroke="#ee4650" stroke-width="2.0"/>
<rect x="467.94" y="829.21" width="7.60" height="7.60" rx="0.8" fill="none" stroke="#ee4650" stroke-width="2.0"/>
<rect x="496.11" y="844.72" width="7.60" height="7.60" rx="0.8" fill="none" stroke="#ee4650" stroke-width="2.0"/>
<rect x="524.28" y="860.23" width="7.60" height="7.60" rx="0.8" fill="none" stroke="#ee4650" stroke-width="2.0"/>
<rect x="552.45" y="878.09" width="7.60" height="7.60" rx="0.8" fill="none" stroke="#ee4650" stroke-width="2.0"/>
<rect x="580.62" y="895.95" width="7.60" height="7.60" rx="0.8" fill="none" stroke="#ee4650" stroke-width="2.0"/>
<rect x="608.79" y="921.80" width="7.60" height="7.60" rx="0.8" fill="none" stroke="#ee4650" stroke-width="2.0"/>
<rect x="636.96" y="939.66" width="7.60" height="7.60" rx="0.8" fill="none" stroke="#ee4650" stroke-width="2.0"/>
<rect x="665.13" y="948.12" width="7.60" height="7.60" rx="0.8" fill="none" stroke="#ee4650" stroke-width="2.0"/>
<rect x="589.25" y="804.15" width="7.70" height="7.70" rx="0.8" fill="none" stroke="#ee4650" stroke-width="1.9"/>
<text x="603.00" y="813.30" font-size="15.7" text-anchor="start" font-weight="bold" fill="#231815" stroke="#231815" stroke-width="0.15">Pyruvate</text>
<rect x="589.25" y="824.15" width="7.70" height="7.70" rx="0.8" fill="none" stroke="#2558b0" stroke-width="1.9"/>
<text x="603.00" y="833.30" font-size="15.7" text-anchor="start" font-weight="bold" fill="#231815" stroke="#231815" stroke-width="0.15">Glutamate</text>
<rect x="589.25" y="844.15" width="7.70" height="7.70" rx="0.8" fill="none" stroke="#8049ae" stroke-width="1.9"/>
<text x="603.00" y="853.30" font-size="15.7" text-anchor="start" font-weight="bold" fill="#231815" stroke="#231815" stroke-width="0.15">Aspartate</text>
<text transform="translate(354.10 786.70) scale(0.92 1)" font-size="14.8" fill="#111">H</text>
<rect x="398.00" y="22.50" width="282.60" height="188.00" fill="none" stroke="#231815" stroke-width="2.0"/>
<line x1="390.40" y1="210.50" x2="398.00" y2="210.50" stroke="#231815" stroke-width="2.0"/>
<text transform="translate(387.90 216.96) scale(1 1.055)" font-size="14.9" text-anchor="end" font-weight="bold" fill="#231815" stroke="#231815" stroke-width="0.15">0.0</text>
<line x1="390.40" y1="172.90" x2="398.00" y2="172.90" stroke="#231815" stroke-width="2.0"/>
<text transform="translate(387.90 179.36) scale(1 1.055)" font-size="14.9" text-anchor="end" font-weight="bold" fill="#231815" stroke="#231815" stroke-width="0.15">0.1</text>
<line x1="390.40" y1="135.30" x2="398.00" y2="135.30" stroke="#231815" stroke-width="2.0"/>
<text transform="translate(387.90 141.76) scale(1 1.055)" font-size="14.9" text-anchor="end" font-weight="bold" fill="#231815" stroke="#231815" stroke-width="0.15">0.2</text>
<line x1="390.40" y1="97.70" x2="398.00" y2="97.70" stroke="#231815" stroke-width="2.0"/>
<text transform="translate(387.90 104.16) scale(1 1.055)" font-size="14.9" text-anchor="end" font-weight="bold" fill="#231815" stroke="#231815" stroke-width="0.15">0.3</text>
<line x1="390.40" y1="60.10" x2="398.00" y2="60.10" stroke="#231815" stroke-width="2.0"/>
<text transform="translate(387.90 66.56) scale(1 1.055)" font-size="14.9" text-anchor="end" font-weight="bold" fill="#231815" stroke="#231815" stroke-width="0.15">0.4</text>
<line x1="390.40" y1="22.50" x2="398.00" y2="22.50" stroke="#231815" stroke-width="2.0"/>
<text transform="translate(387.90 28.96) scale(1 1.055)" font-size="14.9" text-anchor="end" font-weight="bold" fill="#231815" stroke="#231815" stroke-width="0.15">0.5</text>
<line x1="412.00" y1="210.50" x2="412.00" y2="218.80" stroke="#231815" stroke-width="2.0"/>
<text transform="translate(412.00 235.40) scale(1 1.055)" font-size="14.9" text-anchor="middle" font-weight="bold" fill="#231815" stroke="#231815" stroke-width="0.15">0</text>
<line x1="440.20" y1="210.50" x2="440.20" y2="218.80" stroke="#231815" stroke-width="2.0"/>
<text transform="translate(440.20 235.40) scale(1 1.055)" font-size="14.9" text-anchor="middle" font-weight="bold" fill="#231815" stroke="#231815" stroke-width="0.15">1</text>
<line x1="468.40" y1="210.50" x2="468.40" y2="218.80" stroke="#231815" stroke-width="2.0"/>
<text transform="translate(468.40 235.40) scale(1 1.055)" font-size="14.9" text-anchor="middle" font-weight="bold" fill="#231815" stroke="#231815" stroke-width="0.15">2</text>
<line x1="496.60" y1="210.50" x2="496.60" y2="218.80" stroke="#231815" stroke-width="2.0"/>
<text transform="translate(496.60 235.40) scale(1 1.055)" font-size="14.9" text-anchor="middle" font-weight="bold" fill="#231815" stroke="#231815" stroke-width="0.15">3</text>
<line x1="524.80" y1="210.50" x2="524.80" y2="218.80" stroke="#231815" stroke-width="2.0"/>
<text transform="translate(524.80 235.40) scale(1 1.055)" font-size="14.9" text-anchor="middle" font-weight="bold" fill="#231815" stroke="#231815" stroke-width="0.15">4</text>
<line x1="553.00" y1="210.50" x2="553.00" y2="218.80" stroke="#231815" stroke-width="2.0"/>
<text transform="translate(553.00 235.40) scale(1 1.055)" font-size="14.9" text-anchor="middle" font-weight="bold" fill="#231815" stroke="#231815" stroke-width="0.15">5</text>
<line x1="581.20" y1="210.50" x2="581.20" y2="218.80" stroke="#231815" stroke-width="2.0"/>
<text transform="translate(581.20 235.40) scale(1 1.055)" font-size="14.9" text-anchor="middle" font-weight="bold" fill="#231815" stroke="#231815" stroke-width="0.15">6</text>
<line x1="609.40" y1="210.50" x2="609.40" y2="218.80" stroke="#231815" stroke-width="2.0"/>
<text transform="translate(609.40 235.40) scale(1 1.055)" font-size="14.9" text-anchor="middle" font-weight="bold" fill="#231815" stroke="#231815" stroke-width="0.15">7</text>
<line x1="637.60" y1="210.50" x2="637.60" y2="218.80" stroke="#231815" stroke-width="2.0"/>
<text transform="translate(637.60 235.40) scale(1 1.055)" font-size="14.9" text-anchor="middle" font-weight="bold" fill="#231815" stroke="#231815" stroke-width="0.15">7.5</text>
<line x1="665.80" y1="210.50" x2="665.80" y2="218.80" stroke="#231815" stroke-width="2.0"/>
<text transform="translate(665.80 235.40) scale(1 1.055)" font-size="14.9" text-anchor="middle" font-weight="bold" fill="#231815" stroke="#231815" stroke-width="0.15">8</text>
<text x="448.50" y="15.60" font-size="15.7" text-anchor="start" font-weight="bold" fill="#231815" stroke="#231815" stroke-width="0.15">Monoculture LJ9 in CDMG</text>
<text x="356.00" y="114.80" font-size="16" text-anchor="middle" font-weight="bold" fill="#231815" stroke="#231815" stroke-width="0.15" transform="rotate(-90 356.00 114.80)">OD<tspan font-size="11" dy="3">600</tspan></text>
<text x="539.00" y="248.00" font-size="15.8" text-anchor="middle" font-weight="bold" fill="#231815" stroke="#231815" stroke-width="0.15">Time (h)</text>
<line x1="412.00" y1="204.11" x2="440.20" y2="199.60" stroke="#686868" stroke-width="2.8" stroke-linecap="round" stroke-dasharray="5.6,8.2"/>
<line x1="440.20" y1="199.60" x2="468.40" y2="189.07" stroke="#686868" stroke-width="2.8" stroke-linecap="round" stroke-dasharray="5.6,8.2"/>
<line x1="468.40" y1="189.07" x2="496.60" y2="163.88" stroke="#686868" stroke-width="2.8" stroke-linecap="round" stroke-dasharray="5.6,8.2"/>
<line x1="496.60" y1="163.88" x2="524.80" y2="130.41" stroke="#686868" stroke-width="2.8" stroke-linecap="round" stroke-dasharray="5.6,8.2"/>
<line x1="524.80" y1="130.41" x2="553.00" y2="103.34" stroke="#686868" stroke-width="2.8" stroke-linecap="round" stroke-dasharray="5.6,8.2"/>
<line x1="553.00" y1="103.34" x2="581.20" y2="82.28" stroke="#686868" stroke-width="2.8" stroke-linecap="round" stroke-dasharray="5.6,8.2"/>
<line x1="581.20" y1="82.28" x2="609.40" y2="72.13" stroke="#686868" stroke-width="2.8" stroke-linecap="round" stroke-dasharray="5.6,8.2"/>
<line x1="609.40" y1="72.13" x2="637.60" y2="66.12" stroke="#686868" stroke-width="2.8" stroke-linecap="round" stroke-dasharray="5.6,8.2"/>
<line x1="637.60" y1="66.12" x2="665.80" y2="63.11" stroke="#686868" stroke-width="2.8" stroke-linecap="round" stroke-dasharray="5.6,8.2"/>
<polygon points="412.00,199.84 416.67,204.11 412.00,208.38 407.33,204.11" fill="none" stroke="#686868" stroke-width="1.9" stroke-linejoin="round"/>
<polygon points="440.20,195.33 444.87,199.60 440.20,203.87 435.53,199.60" fill="none" stroke="#686868" stroke-width="1.9" stroke-linejoin="round"/>
<polygon points="468.40,184.80 473.07,189.07 468.40,193.34 463.73,189.07" fill="none" stroke="#686868" stroke-width="1.9" stroke-linejoin="round"/>
<polygon points="496.60,159.61 501.27,163.88 496.60,168.15 491.93,163.88" fill="none" stroke="#686868" stroke-width="1.9" stroke-linejoin="round"/>
<polygon points="524.80,126.14 529.47,130.41 524.80,134.68 520.13,130.41" fill="none" stroke="#686868" stroke-width="1.9" stroke-linejoin="round"/>
<polygon points="553.00,99.07 557.67,103.34 553.00,107.61 548.33,103.34" fill="none" stroke="#686868" stroke-width="1.9" stroke-linejoin="round"/>
<polygon points="581.20,78.01 585.87,82.28 581.20,86.55 576.53,82.28" fill="none" stroke="#686868" stroke-width="1.9" stroke-linejoin="round"/>
<polygon points="609.40,67.86 614.07,72.13 609.40,76.40 604.73,72.13" fill="none" stroke="#686868" stroke-width="1.9" stroke-linejoin="round"/>
<polygon points="637.60,61.85 642.27,66.12 637.60,70.39 632.93,66.12" fill="none" stroke="#686868" stroke-width="1.9" stroke-linejoin="round"/>
<polygon points="665.80,58.84 670.47,63.11 665.80,67.38 661.13,63.11" fill="none" stroke="#686868" stroke-width="1.9" stroke-linejoin="round"/>
<line x1="412.00" y1="204.48" x2="440.20" y2="201.10" stroke="#686868" stroke-width="2.8" stroke-linecap="round" stroke-dasharray="5.6,8.2"/>
<line x1="440.20" y1="201.10" x2="468.40" y2="190.57" stroke="#686868" stroke-width="2.8" stroke-linecap="round" stroke-dasharray="5.6,8.2"/>
<line x1="468.40" y1="190.57" x2="496.60" y2="170.27" stroke="#686868" stroke-width="2.8" stroke-linecap="round" stroke-dasharray="5.6,8.2"/>
<line x1="496.60" y1="170.27" x2="524.80" y2="142.44" stroke="#686868" stroke-width="2.8" stroke-linecap="round" stroke-dasharray="5.6,8.2"/>
<line x1="524.80" y1="142.44" x2="553.00" y2="121.39" stroke="#686868" stroke-width="2.8" stroke-linecap="round" stroke-dasharray="5.6,8.2"/>
<line x1="553.00" y1="121.39" x2="581.20" y2="105.22" stroke="#686868" stroke-width="2.8" stroke-linecap="round" stroke-dasharray="5.6,8.2"/>
<line x1="581.20" y1="105.22" x2="609.40" y2="94.32" stroke="#686868" stroke-width="2.8" stroke-linecap="round" stroke-dasharray="5.6,8.2"/>
<line x1="609.40" y1="94.32" x2="637.60" y2="84.16" stroke="#686868" stroke-width="2.8" stroke-linecap="round" stroke-dasharray="5.6,8.2"/>
<line x1="637.60" y1="84.16" x2="665.80" y2="80.03" stroke="#686868" stroke-width="2.8" stroke-linecap="round" stroke-dasharray="5.6,8.2"/>
<polygon points="412.00,199.70 416.13,208.25 407.87,208.25" fill="none" stroke="#686868" stroke-width="1.9" stroke-linejoin="round"/>
<polygon points="440.20,196.31 444.33,204.86 436.06,204.86" fill="none" stroke="#686868" stroke-width="1.9" stroke-linejoin="round"/>
<polygon points="468.40,185.78 472.53,194.33 464.26,194.33" fill="none" stroke="#686868" stroke-width="1.9" stroke-linejoin="round"/>
<polygon points="496.60,165.48 500.74,174.03 492.47,174.03" fill="none" stroke="#686868" stroke-width="1.9" stroke-linejoin="round"/>
<polygon points="524.80,137.66 528.93,146.21 520.66,146.21" fill="none" stroke="#686868" stroke-width="1.9" stroke-linejoin="round"/>
<polygon points="553.00,116.60 557.13,125.15 548.87,125.15" fill="none" stroke="#686868" stroke-width="1.9" stroke-linejoin="round"/>
<polygon points="581.20,100.43 585.34,108.98 577.07,108.98" fill="none" stroke="#686868" stroke-width="1.9" stroke-linejoin="round"/>
<polygon points="609.40,89.53 613.53,98.08 605.26,98.08" fill="none" stroke="#686868" stroke-width="1.9" stroke-linejoin="round"/>
<polygon points="637.60,79.38 641.74,87.93 633.47,87.93" fill="none" stroke="#686868" stroke-width="1.9" stroke-linejoin="round"/>
<polygon points="665.80,75.24 669.93,83.79 661.66,83.79" fill="none" stroke="#686868" stroke-width="1.9" stroke-linejoin="round"/>
<line x1="412.00" y1="204.86" x2="440.20" y2="202.98" stroke="#686868" stroke-width="2.8" stroke-linecap="round" stroke-dasharray="5.6,8.2"/>
<line x1="440.20" y1="202.98" x2="468.40" y2="195.46" stroke="#686868" stroke-width="2.8" stroke-linecap="round" stroke-dasharray="5.6,8.2"/>
<line x1="468.40" y1="195.46" x2="496.60" y2="185.31" stroke="#686868" stroke-width="2.8" stroke-linecap="round" stroke-dasharray="5.6,8.2"/>
<line x1="496.60" y1="185.31" x2="524.80" y2="157.86" stroke="#686868" stroke-width="2.8" stroke-linecap="round" stroke-dasharray="5.6,8.2"/>
<line x1="524.80" y1="157.86" x2="553.00" y2="135.30" stroke="#686868" stroke-width="2.8" stroke-linecap="round" stroke-dasharray="5.6,8.2"/>
<line x1="553.00" y1="135.30" x2="581.20" y2="119.88" stroke="#686868" stroke-width="2.8" stroke-linecap="round" stroke-dasharray="5.6,8.2"/>
<line x1="581.20" y1="119.88" x2="609.40" y2="114.62" stroke="#686868" stroke-width="2.8" stroke-linecap="round" stroke-dasharray="5.6,8.2"/>
<line x1="609.40" y1="114.62" x2="637.60" y2="111.61" stroke="#686868" stroke-width="2.8" stroke-linecap="round" stroke-dasharray="5.6,8.2"/>
<line x1="637.60" y1="111.61" x2="665.80" y2="109.36" stroke="#686868" stroke-width="2.8" stroke-linecap="round" stroke-dasharray="5.6,8.2"/>
<rect x="408.45" y="201.31" width="7.10" height="7.10" rx="0.8" fill="none" stroke="#686868" stroke-width="1.9"/>
<rect x="436.65" y="199.43" width="7.10" height="7.10" rx="0.8" fill="none" stroke="#686868" stroke-width="1.9"/>
<rect x="464.85" y="191.91" width="7.10" height="7.10" rx="0.8" fill="none" stroke="#686868" stroke-width="1.9"/>
<rect x="493.05" y="181.76" width="7.10" height="7.10" rx="0.8" fill="none" stroke="#686868" stroke-width="1.9"/>
<rect x="521.25" y="154.31" width="7.10" height="7.10" rx="0.8" fill="none" stroke="#686868" stroke-width="1.9"/>
<rect x="549.45" y="131.75" width="7.10" height="7.10" rx="0.8" fill="none" stroke="#686868" stroke-width="1.9"/>
<rect x="577.65" y="116.33" width="7.10" height="7.10" rx="0.8" fill="none" stroke="#686868" stroke-width="1.9"/>
<rect x="605.85" y="111.07" width="7.10" height="7.10" rx="0.8" fill="none" stroke="#686868" stroke-width="1.9"/>
<rect x="634.05" y="108.06" width="7.10" height="7.10" rx="0.8" fill="none" stroke="#686868" stroke-width="1.9"/>
<rect x="662.25" y="105.81" width="7.10" height="7.10" rx="0.8" fill="none" stroke="#686868" stroke-width="1.9"/>
<line x1="412.00" y1="204.86" x2="440.20" y2="203.73" stroke="#666666" stroke-width="2.8" stroke-linecap="round" stroke-dasharray="5.6,8.2"/>
<line x1="440.20" y1="203.73" x2="468.40" y2="199.22" stroke="#666666" stroke-width="2.8" stroke-linecap="round" stroke-dasharray="5.6,8.2"/>
<line x1="468.40" y1="199.22" x2="496.60" y2="192.83" stroke="#666666" stroke-width="2.8" stroke-linecap="round" stroke-dasharray="5.6,8.2"/>
<line x1="496.60" y1="192.83" x2="524.80" y2="180.04" stroke="#666666" stroke-width="2.8" stroke-linecap="round" stroke-dasharray="5.6,8.2"/>
<line x1="524.80" y1="180.04" x2="553.00" y2="168.76" stroke="#666666" stroke-width="2.8" stroke-linecap="round" stroke-dasharray="5.6,8.2"/>
<line x1="553.00" y1="168.76" x2="581.20" y2="162.37" stroke="#666666" stroke-width="2.8" stroke-linecap="round" stroke-dasharray="5.6,8.2"/>
<line x1="581.20" y1="162.37" x2="609.40" y2="157.86" stroke="#666666" stroke-width="2.8" stroke-linecap="round" stroke-dasharray="5.6,8.2"/>
<line x1="609.40" y1="157.86" x2="637.60" y2="156.73" stroke="#666666" stroke-width="2.8" stroke-linecap="round" stroke-dasharray="5.6,8.2"/>
<line x1="637.60" y1="156.73" x2="665.80" y2="155.98" stroke="#666666" stroke-width="2.8" stroke-linecap="round" stroke-dasharray="5.6,8.2"/>
<circle cx="412.00" cy="204.86" r="3.95" fill="none" stroke="#666666" stroke-width="1.9"/>
<circle cx="440.20" cy="203.73" r="3.95" fill="none" stroke="#666666" stroke-width="1.9"/>
<circle cx="468.40" cy="199.22" r="3.95" fill="none" stroke="#666666" stroke-width="1.9"/>
<circle cx="496.60" cy="192.83" r="3.95" fill="none" stroke="#666666" stroke-width="1.9"/>
<circle cx="524.80" cy="180.04" r="3.95" fill="none" stroke="#666666" stroke-width="1.9"/>
<circle cx="553.00" cy="168.76" r="3.95" fill="none" stroke="#666666" stroke-width="1.9"/>
<circle cx="581.20" cy="162.37" r="3.95" fill="none" stroke="#666666" stroke-width="1.9"/>
<circle cx="609.40" cy="157.86" r="3.95" fill="none" stroke="#666666" stroke-width="1.9"/>
<circle cx="637.60" cy="156.73" r="3.95" fill="none" stroke="#666666" stroke-width="1.9"/>
<circle cx="665.80" cy="155.98" r="3.95" fill="none" stroke="#666666" stroke-width="1.9"/>
<line x1="412.00" y1="205.42" x2="440.20" y2="204.48" stroke="#231815" stroke-width="2.8" stroke-linecap="round" stroke-dasharray="5.6,8.2"/>
<line x1="440.20" y1="204.48" x2="468.40" y2="202.60" stroke="#231815" stroke-width="2.8" stroke-linecap="round" stroke-dasharray="5.6,8.2"/>
<line x1="468.40" y1="202.60" x2="496.60" y2="197.72" stroke="#231815" stroke-width="2.8" stroke-linecap="round" stroke-dasharray="5.6,8.2"/>
<line x1="496.60" y1="197.72" x2="524.80" y2="190.57" stroke="#231815" stroke-width="2.8" stroke-linecap="round" stroke-dasharray="5.6,8.2"/>
<line x1="524.80" y1="190.57" x2="553.00" y2="178.92" stroke="#231815" stroke-width="2.8" stroke-linecap="round" stroke-dasharray="5.6,8.2"/>
<line x1="553.00" y1="178.92" x2="581.20" y2="174.40" stroke="#231815" stroke-width="2.8" stroke-linecap="round" stroke-dasharray="5.6,8.2"/>
<line x1="581.20" y1="174.40" x2="609.40" y2="172.90" stroke="#231815" stroke-width="2.8" stroke-linecap="round" stroke-dasharray="5.6,8.2"/>
<line x1="609.40" y1="172.90" x2="637.60" y2="172.52" stroke="#231815" stroke-width="2.8" stroke-linecap="round" stroke-dasharray="5.6,8.2"/>
<line x1="637.60" y1="172.52" x2="665.80" y2="171.40" stroke="#231815" stroke-width="2.8" stroke-linecap="round" stroke-dasharray="5.6,8.2"/>
<rect x="408.45" y="201.87" width="7.10" height="7.10" rx="0.8" fill="none" stroke="#231815" stroke-width="1.9"/>
<rect x="436.65" y="200.93" width="7.10" height="7.10" rx="0.8" fill="none" stroke="#231815" stroke-width="1.9"/>
<rect x="464.85" y="199.05" width="7.10" height="7.10" rx="0.8" fill="none" stroke="#231815" stroke-width="1.9"/>
<rect x="493.05" y="194.17" width="7.10" height="7.10" rx="0.8" fill="none" stroke="#231815" stroke-width="1.9"/>
<rect x="521.25" y="187.02" width="7.10" height="7.10" rx="0.8" fill="none" stroke="#231815" stroke-width="1.9"/>
<rect x="549.45" y="175.37" width="7.10" height="7.10" rx="0.8" fill="none" stroke="#231815" stroke-width="1.9"/>
<rect x="577.65" y="170.85" width="7.10" height="7.10" rx="0.8" fill="none" stroke="#231815" stroke-width="1.9"/>
<rect x="605.85" y="169.35" width="7.10" height="7.10" rx="0.8" fill="none" stroke="#231815" stroke-width="1.9"/>
<rect x="634.05" y="168.97" width="7.10" height="7.10" rx="0.8" fill="none" stroke="#231815" stroke-width="1.9"/>
<rect x="662.25" y="167.85" width="7.10" height="7.10" rx="0.8" fill="none" stroke="#231815" stroke-width="1.9"/>
<rect x="406.90" y="31.60" width="7.20" height="7.20" rx="0.8" fill="none" stroke="#231815" stroke-width="1.8"/>
<text x="418.70" y="40.60" font-size="15.7" text-anchor="start" font-weight="bold" fill="#231815" stroke="#231815" stroke-width="0.15">0 mM PG</text>
<circle cx="410.50" cy="53.60" r="3.90" fill="none" stroke="#666666" stroke-width="1.8"/>
<text x="418.70" y="59.00" font-size="15.7" text-anchor="start" font-weight="bold" fill="#231815" stroke="#231815" stroke-width="0.15">4.5 mM PG</text>
<rect x="406.90" y="68.60" width="7.20" height="7.20" rx="0.8" fill="none" stroke="#686868" stroke-width="1.8"/>
<text x="418.70" y="77.60" font-size="15.7" text-anchor="start" font-weight="bold" fill="#231815" stroke="#231815" stroke-width="0.15">9.0 mM PG</text>
<polygon points="410.50,89.65 414.72,97.95 406.28,97.95" fill="none" stroke="#686868" stroke-width="1.8" stroke-linejoin="round"/>
<text x="418.70" y="99.70" font-size="15.7" text-anchor="start" font-weight="bold" fill="#231815" stroke="#231815" stroke-width="0.15">13.5 mM PG</text>
<polygon points="410.50,111.11 415.24,115.60 410.50,120.09 405.76,115.60" fill="none" stroke="#686868" stroke-width="1.8" stroke-linejoin="round"/>
<text x="418.70" y="121.00" font-size="15.7" text-anchor="start" font-weight="bold" fill="#231815" stroke="#231815" stroke-width="0.15">17.8 mM PG</text>
<text transform="translate(343.60 10.50) scale(0.92 1)" font-size="14.8" fill="#111">C</text>
<rect x="396.00" y="538.00" width="282.20" height="188.30" fill="none" stroke="#231815" stroke-width="2.0"/>
<line x1="388.40" y1="726.30" x2="396.00" y2="726.30" stroke="#231815" stroke-width="2.0"/>
<text transform="translate(385.90 732.36) scale(1 1.055)" font-size="14.9" text-anchor="end" font-weight="bold" fill="#231815" stroke="#231815" stroke-width="0.15">0.0</text>
<line x1="388.40" y1="679.23" x2="396.00" y2="679.23" stroke="#231815" stroke-width="2.0"/>
<text transform="translate(385.90 685.29) scale(1 1.055)" font-size="14.9" text-anchor="end" font-weight="bold" fill="#231815" stroke="#231815" stroke-width="0.15">0.1</text>
<line x1="388.40" y1="632.15" x2="396.00" y2="632.15" stroke="#231815" stroke-width="2.0"/>
<text transform="translate(385.90 638.21) scale(1 1.055)" font-size="14.9" text-anchor="end" font-weight="bold" fill="#231815" stroke="#231815" stroke-width="0.15">0.2</text>
<line x1="388.40" y1="585.08" x2="396.00" y2="585.08" stroke="#231815" stroke-width="2.0"/>
<text transform="translate(385.90 591.14) scale(1 1.055)" font-size="14.9" text-anchor="end" font-weight="bold" fill="#231815" stroke="#231815" stroke-width="0.15">0.3</text>
<line x1="388.40" y1="538.00" x2="396.00" y2="538.00" stroke="#231815" stroke-width="2.0"/>
<text transform="translate(385.90 544.06) scale(1 1.055)" font-size="14.9" text-anchor="end" font-weight="bold" fill="#231815" stroke="#231815" stroke-width="0.15">0.4</text>
<line x1="410.00" y1="726.30" x2="410.00" y2="734.60" stroke="#231815" stroke-width="2.0"/>
<text transform="translate(410.00 751.00) scale(1 1.055)" font-size="14.9" text-anchor="middle" font-weight="bold" fill="#231815" stroke="#231815" stroke-width="0.15">0</text>
<line x1="438.20" y1="726.30" x2="438.20" y2="734.60" stroke="#231815" stroke-width="2.0"/>
<text transform="translate(438.20 751.00) scale(1 1.055)" font-size="14.9" text-anchor="middle" font-weight="bold" fill="#231815" stroke="#231815" stroke-width="0.15">1</text>
<line x1="466.40" y1="726.30" x2="466.40" y2="734.60" stroke="#231815" stroke-width="2.0"/>
<text transform="translate(466.40 751.00) scale(1 1.055)" font-size="14.9" text-anchor="middle" font-weight="bold" fill="#231815" stroke="#231815" stroke-width="0.15">2</text>
<line x1="494.60" y1="726.30" x2="494.60" y2="734.60" stroke="#231815" stroke-width="2.0"/>
<text transform="translate(494.60 751.00) scale(1 1.055)" font-size="14.9" text-anchor="middle" font-weight="bold" fill="#231815" stroke="#231815" stroke-width="0.15">3</text>
<line x1="522.80" y1="726.30" x2="522.80" y2="734.60" stroke="#231815" stroke-width="2.0"/>
<text transform="translate(522.80 751.00) scale(1 1.055)" font-size="14.9" text-anchor="middle" font-weight="bold" fill="#231815" stroke="#231815" stroke-width="0.15">4</text>
<line x1="551.00" y1="726.30" x2="551.00" y2="734.60" stroke="#231815" stroke-width="2.0"/>
<text transform="translate(551.00 751.00) scale(1 1.055)" font-size="14.9" text-anchor="middle" font-weight="bold" fill="#231815" stroke="#231815" stroke-width="0.15">5</text>
<line x1="579.20" y1="726.30" x2="579.20" y2="734.60" stroke="#231815" stroke-width="2.0"/>
<text transform="translate(579.20 751.00) scale(1 1.055)" font-size="14.9" text-anchor="middle" font-weight="bold" fill="#231815" stroke="#231815" stroke-width="0.15">6</text>
<line x1="607.40" y1="726.30" x2="607.40" y2="734.60" stroke="#231815" stroke-width="2.0"/>
<text transform="translate(607.40 751.00) scale(1 1.055)" font-size="14.9" text-anchor="middle" font-weight="bold" fill="#231815" stroke="#231815" stroke-width="0.15">7</text>
<line x1="635.60" y1="726.30" x2="635.60" y2="734.60" stroke="#231815" stroke-width="2.0"/>
<text transform="translate(635.60 751.00) scale(1 1.055)" font-size="14.9" text-anchor="middle" font-weight="bold" fill="#231815" stroke="#231815" stroke-width="0.15">7.5</text>
<line x1="663.80" y1="726.30" x2="663.80" y2="734.60" stroke="#231815" stroke-width="2.0"/>
<text transform="translate(663.80 751.00) scale(1 1.055)" font-size="14.9" text-anchor="middle" font-weight="bold" fill="#231815" stroke="#231815" stroke-width="0.15">8</text>
<text x="442.00" y="534.80" font-size="15.7" text-anchor="start" font-weight="bold" fill="#231815" stroke="#231815" stroke-width="0.15">Monoculture LJ9 in CDMS</text>
<text x="354.00" y="630.90" font-size="16" text-anchor="middle" font-weight="bold" fill="#231815" stroke="#231815" stroke-width="0.15" transform="rotate(-90 354.00 630.90)">OD<tspan font-size="11" dy="3">600</tspan></text>
<text x="537.30" y="763.40" font-size="15.8" text-anchor="middle" font-weight="bold" fill="#231815" stroke="#231815" stroke-width="0.15">Time (h)</text>
<line x1="410.00" y1="719.24" x2="438.20" y2="715.94" stroke="#686868" stroke-width="2.8" stroke-linecap="round" stroke-dasharray="5.6,8.2"/>
<line x1="438.20" y1="715.94" x2="466.40" y2="704.17" stroke="#686868" stroke-width="2.8" stroke-linecap="round" stroke-dasharray="5.6,8.2"/>
<line x1="466.40" y1="704.17" x2="494.60" y2="675.46" stroke="#686868" stroke-width="2.8" stroke-linecap="round" stroke-dasharray="5.6,8.2"/>
<line x1="494.60" y1="675.46" x2="522.80" y2="633.56" stroke="#686868" stroke-width="2.8" stroke-linecap="round" stroke-dasharray="5.6,8.2"/>
<line x1="522.80" y1="633.56" x2="551.00" y2="605.32" stroke="#686868" stroke-width="2.8" stroke-linecap="round" stroke-dasharray="5.6,8.2"/>
<line x1="551.00" y1="605.32" x2="579.20" y2="589.78" stroke="#686868" stroke-width="2.8" stroke-linecap="round" stroke-dasharray="5.6,8.2"/>
<line x1="579.20" y1="589.78" x2="607.40" y2="577.07" stroke="#686868" stroke-width="2.8" stroke-linecap="round" stroke-dasharray="5.6,8.2"/>
<line x1="607.40" y1="577.07" x2="635.60" y2="573.31" stroke="#686868" stroke-width="2.8" stroke-linecap="round" stroke-dasharray="5.6,8.2"/>
<line x1="635.60" y1="573.31" x2="663.80" y2="572.36" stroke="#686868" stroke-width="2.8" stroke-linecap="round" stroke-dasharray="5.6,8.2"/>
<polygon points="410.00,714.97 414.67,719.24 410.00,723.51 405.33,719.24" fill="none" stroke="#686868" stroke-width="1.9" stroke-linejoin="round"/>
<polygon points="438.20,711.67 442.87,715.94 438.20,720.21 433.53,715.94" fill="none" stroke="#686868" stroke-width="1.9" stroke-linejoin="round"/>
<polygon points="466.40,699.90 471.07,704.17 466.40,708.44 461.73,704.17" fill="none" stroke="#686868" stroke-width="1.9" stroke-linejoin="round"/>
<polygon points="494.60,671.19 499.27,675.46 494.60,679.73 489.93,675.46" fill="none" stroke="#686868" stroke-width="1.9" stroke-linejoin="round"/>
<polygon points="522.80,629.29 527.47,633.56 522.80,637.83 518.13,633.56" fill="none" stroke="#686868" stroke-width="1.9" stroke-linejoin="round"/>
<polygon points="551.00,601.05 555.67,605.32 551.00,609.59 546.33,605.32" fill="none" stroke="#686868" stroke-width="1.9" stroke-linejoin="round"/>
<polygon points="579.20,585.51 583.87,589.78 579.20,594.05 574.53,589.78" fill="none" stroke="#686868" stroke-width="1.9" stroke-linejoin="round"/>
<polygon points="607.40,572.80 612.07,577.07 607.40,581.34 602.73,577.07" fill="none" stroke="#686868" stroke-width="1.9" stroke-linejoin="round"/>
<polygon points="635.60,569.04 640.27,573.31 635.60,577.58 630.93,573.31" fill="none" stroke="#686868" stroke-width="1.9" stroke-linejoin="round"/>
<polygon points="663.80,568.09 668.47,572.36 663.80,576.63 659.13,572.36" fill="none" stroke="#686868" stroke-width="1.9" stroke-linejoin="round"/>
<line x1="410.00" y1="719.71" x2="438.20" y2="716.88" stroke="#686868" stroke-width="2.8" stroke-linecap="round" stroke-dasharray="5.6,8.2"/>
<line x1="438.20" y1="716.88" x2="466.40" y2="707.47" stroke="#686868" stroke-width="2.8" stroke-linecap="round" stroke-dasharray="5.6,8.2"/>
<line x1="466.40" y1="707.47" x2="494.60" y2="681.58" stroke="#686868" stroke-width="2.8" stroke-linecap="round" stroke-dasharray="5.6,8.2"/>
<line x1="494.60" y1="681.58" x2="522.80" y2="645.33" stroke="#686868" stroke-width="2.8" stroke-linecap="round" stroke-dasharray="5.6,8.2"/>
<line x1="522.80" y1="645.33" x2="551.00" y2="623.21" stroke="#686868" stroke-width="2.8" stroke-linecap="round" stroke-dasharray="5.6,8.2"/>
<line x1="551.00" y1="623.21" x2="579.20" y2="603.90" stroke="#686868" stroke-width="2.8" stroke-linecap="round" stroke-dasharray="5.6,8.2"/>
<line x1="579.20" y1="603.90" x2="607.40" y2="594.49" stroke="#686868" stroke-width="2.8" stroke-linecap="round" stroke-dasharray="5.6,8.2"/>
<line x1="607.40" y1="594.49" x2="635.60" y2="586.96" stroke="#686868" stroke-width="2.8" stroke-linecap="round" stroke-dasharray="5.6,8.2"/>
<line x1="635.60" y1="586.96" x2="663.80" y2="586.02" stroke="#686868" stroke-width="2.8" stroke-linecap="round" stroke-dasharray="5.6,8.2"/>
<polygon points="410.00,714.92 414.13,723.47 405.87,723.47" fill="none" stroke="#686868" stroke-width="1.9" stroke-linejoin="round"/>
<polygon points="438.20,712.10 442.33,720.65 434.06,720.65" fill="none" stroke="#686868" stroke-width="1.9" stroke-linejoin="round"/>
<polygon points="466.40,702.68 470.53,711.23 462.26,711.23" fill="none" stroke="#686868" stroke-width="1.9" stroke-linejoin="round"/>
<polygon points="494.60,676.79 498.74,685.34 490.47,685.34" fill="none" stroke="#686868" stroke-width="1.9" stroke-linejoin="round"/>
<polygon points="522.80,640.54 526.93,649.09 518.66,649.09" fill="none" stroke="#686868" stroke-width="1.9" stroke-linejoin="round"/>
<polygon points="551.00,618.42 555.13,626.97 546.87,626.97" fill="none" stroke="#686868" stroke-width="1.9" stroke-linejoin="round"/>
<polygon points="579.20,599.12 583.34,607.67 575.07,607.67" fill="none" stroke="#686868" stroke-width="1.9" stroke-linejoin="round"/>
<polygon points="607.40,589.70 611.53,598.25 603.26,598.25" fill="none" stroke="#686868" stroke-width="1.9" stroke-linejoin="round"/>
<polygon points="635.60,582.17 639.74,590.72 631.47,590.72" fill="none" stroke="#686868" stroke-width="1.9" stroke-linejoin="round"/>
<polygon points="663.80,581.23 667.93,589.78 659.66,589.78" fill="none" stroke="#686868" stroke-width="1.9" stroke-linejoin="round"/>
<line x1="410.00" y1="720.18" x2="438.20" y2="718.30" stroke="#686868" stroke-width="2.8" stroke-linecap="round" stroke-dasharray="5.6,8.2"/>
<line x1="438.20" y1="718.30" x2="466.40" y2="714.06" stroke="#686868" stroke-width="2.8" stroke-linecap="round" stroke-dasharray="5.6,8.2"/>
<line x1="466.40" y1="714.06" x2="494.60" y2="701.82" stroke="#686868" stroke-width="2.8" stroke-linecap="round" stroke-dasharray="5.6,8.2"/>
<line x1="494.60" y1="701.82" x2="522.80" y2="672.16" stroke="#686868" stroke-width="2.8" stroke-linecap="round" stroke-dasharray="5.6,8.2"/>
<line x1="522.80" y1="672.16" x2="551.00" y2="645.33" stroke="#686868" stroke-width="2.8" stroke-linecap="round" stroke-dasharray="5.6,8.2"/>
<line x1="551.00" y1="645.33" x2="579.20" y2="632.15" stroke="#686868" stroke-width="2.8" stroke-linecap="round" stroke-dasharray="5.6,8.2"/>
<line x1="579.20" y1="632.15" x2="607.40" y2="624.15" stroke="#686868" stroke-width="2.8" stroke-linecap="round" stroke-dasharray="5.6,8.2"/>
<line x1="607.40" y1="624.15" x2="635.60" y2="621.79" stroke="#686868" stroke-width="2.8" stroke-linecap="round" stroke-dasharray="5.6,8.2"/>
<line x1="635.60" y1="621.79" x2="663.80" y2="619.91" stroke="#686868" stroke-width="2.8" stroke-linecap="round" stroke-dasharray="5.6,8.2"/>
<rect x="406.45" y="716.63" width="7.10" height="7.10" rx="0.8" fill="none" stroke="#686868" stroke-width="1.9"/>
<rect x="434.65" y="714.75" width="7.10" height="7.10" rx="0.8" fill="none" stroke="#686868" stroke-width="1.9"/>
<rect x="462.85" y="710.51" width="7.10" height="7.10" rx="0.8" fill="none" stroke="#686868" stroke-width="1.9"/>
<rect x="491.05" y="698.27" width="7.10" height="7.10" rx="0.8" fill="none" stroke="#686868" stroke-width="1.9"/>
<rect x="519.25" y="668.61" width="7.10" height="7.10" rx="0.8" fill="none" stroke="#686868" stroke-width="1.9"/>
<rect x="547.45" y="641.78" width="7.10" height="7.10" rx="0.8" fill="none" stroke="#686868" stroke-width="1.9"/>
<rect x="575.65" y="628.60" width="7.10" height="7.10" rx="0.8" fill="none" stroke="#686868" stroke-width="1.9"/>
<rect x="603.85" y="620.60" width="7.10" height="7.10" rx="0.8" fill="none" stroke="#686868" stroke-width="1.9"/>
<rect x="632.05" y="618.24" width="7.10" height="7.10" rx="0.8" fill="none" stroke="#686868" stroke-width="1.9"/>
<rect x="660.25" y="616.36" width="7.10" height="7.10" rx="0.8" fill="none" stroke="#686868" stroke-width="1.9"/>
<line x1="410.00" y1="720.65" x2="438.20" y2="719.24" stroke="#666666" stroke-width="2.8" stroke-linecap="round" stroke-dasharray="5.6,8.2"/>
<line x1="438.20" y1="719.24" x2="466.40" y2="715.94" stroke="#666666" stroke-width="2.8" stroke-linecap="round" stroke-dasharray="5.6,8.2"/>
<line x1="466.40" y1="715.94" x2="494.60" y2="710.29" stroke="#666666" stroke-width="2.8" stroke-linecap="round" stroke-dasharray="5.6,8.2"/>
<line x1="494.60" y1="710.29" x2="522.80" y2="697.11" stroke="#666666" stroke-width="2.8" stroke-linecap="round" stroke-dasharray="5.6,8.2"/>
<line x1="522.80" y1="697.11" x2="551.00" y2="682.52" stroke="#666666" stroke-width="2.8" stroke-linecap="round" stroke-dasharray="5.6,8.2"/>
<line x1="551.00" y1="682.52" x2="579.20" y2="674.52" stroke="#666666" stroke-width="2.8" stroke-linecap="round" stroke-dasharray="5.6,8.2"/>
<line x1="579.20" y1="674.52" x2="607.40" y2="671.22" stroke="#666666" stroke-width="2.8" stroke-linecap="round" stroke-dasharray="5.6,8.2"/>
<line x1="607.40" y1="671.22" x2="635.60" y2="670.28" stroke="#666666" stroke-width="2.8" stroke-linecap="round" stroke-dasharray="5.6,8.2"/>
<line x1="635.60" y1="670.28" x2="663.80" y2="668.87" stroke="#666666" stroke-width="2.8" stroke-linecap="round" stroke-dasharray="5.6,8.2"/>
<circle cx="410.00" cy="720.65" r="3.95" fill="none" stroke="#666666" stroke-width="1.9"/>
<circle cx="438.20" cy="719.24" r="3.95" fill="none" stroke="#666666" stroke-width="1.9"/>
<circle cx="466.40" cy="715.94" r="3.95" fill="none" stroke="#666666" stroke-width="1.9"/>
<circle cx="494.60" cy="710.29" r="3.95" fill="none" stroke="#666666" stroke-width="1.9"/>
<circle cx="522.80" cy="697.11" r="3.95" fill="none" stroke="#666666" stroke-width="1.9"/>
<circle cx="551.00" cy="682.52" r="3.95" fill="none" stroke="#666666" stroke-width="1.9"/>
<circle cx="579.20" cy="674.52" r="3.95" fill="none" stroke="#666666" stroke-width="1.9"/>
<circle cx="607.40" cy="671.22" r="3.95" fill="none" stroke="#666666" stroke-width="1.9"/>
<circle cx="635.60" cy="670.28" r="3.95" fill="none" stroke="#666666" stroke-width="1.9"/>
<circle cx="663.80" cy="668.87" r="3.95" fill="none" stroke="#666666" stroke-width="1.9"/>
<line x1="410.00" y1="721.59" x2="438.20" y2="720.18" stroke="#231815" stroke-width="2.8" stroke-linecap="round" stroke-dasharray="5.6,8.2"/>
<line x1="438.20" y1="720.18" x2="466.40" y2="718.30" stroke="#231815" stroke-width="2.8" stroke-linecap="round" stroke-dasharray="5.6,8.2"/>
<line x1="466.40" y1="718.30" x2="494.60" y2="714.06" stroke="#231815" stroke-width="2.8" stroke-linecap="round" stroke-dasharray="5.6,8.2"/>
<line x1="494.60" y1="714.06" x2="522.80" y2="704.65" stroke="#231815" stroke-width="2.8" stroke-linecap="round" stroke-dasharray="5.6,8.2"/>
<line x1="522.80" y1="704.65" x2="551.00" y2="691.94" stroke="#231815" stroke-width="2.8" stroke-linecap="round" stroke-dasharray="5.6,8.2"/>
<line x1="551.00" y1="691.94" x2="579.20" y2="686.29" stroke="#231815" stroke-width="2.8" stroke-linecap="round" stroke-dasharray="5.6,8.2"/>
<line x1="579.20" y1="686.29" x2="607.40" y2="682.99" stroke="#231815" stroke-width="2.8" stroke-linecap="round" stroke-dasharray="5.6,8.2"/>
<line x1="607.40" y1="682.99" x2="635.60" y2="681.58" stroke="#231815" stroke-width="2.8" stroke-linecap="round" stroke-dasharray="5.6,8.2"/>
<line x1="635.60" y1="681.58" x2="663.80" y2="680.64" stroke="#231815" stroke-width="2.8" stroke-linecap="round" stroke-dasharray="5.6,8.2"/>
<rect x="406.45" y="718.04" width="7.10" height="7.10" rx="0.8" fill="none" stroke="#231815" stroke-width="1.9"/>
<rect x="434.65" y="716.63" width="7.10" height="7.10" rx="0.8" fill="none" stroke="#231815" stroke-width="1.9"/>
<rect x="462.85" y="714.75" width="7.10" height="7.10" rx="0.8" fill="none" stroke="#231815" stroke-width="1.9"/>
<rect x="491.05" y="710.51" width="7.10" height="7.10" rx="0.8" fill="none" stroke="#231815" stroke-width="1.9"/>
<rect x="519.25" y="701.10" width="7.10" height="7.10" rx="0.8" fill="none" stroke="#231815" stroke-width="1.9"/>
<rect x="547.45" y="688.39" width="7.10" height="7.10" rx="0.8" fill="none" stroke="#231815" stroke-width="1.9"/>
<rect x="575.65" y="682.74" width="7.10" height="7.10" rx="0.8" fill="none" stroke="#231815" stroke-width="1.9"/>
<rect x="603.85" y="679.44" width="7.10" height="7.10" rx="0.8" fill="none" stroke="#231815" stroke-width="1.9"/>
<rect x="632.05" y="678.03" width="7.10" height="7.10" rx="0.8" fill="none" stroke="#231815" stroke-width="1.9"/>
<rect x="660.25" y="677.09" width="7.10" height="7.10" rx="0.8" fill="none" stroke="#231815" stroke-width="1.9"/>
<rect x="405.00" y="545.80" width="7.20" height="7.20" rx="0.8" fill="none" stroke="#231815" stroke-width="1.8"/>
<text x="419.30" y="554.80" font-size="15.7" text-anchor="start" font-weight="bold" fill="#231815" stroke="#231815" stroke-width="0.15">0 mM PG</text>
<circle cx="408.60" cy="568.10" r="3.90" fill="none" stroke="#666666" stroke-width="1.8"/>
<text x="419.30" y="573.50" font-size="15.7" text-anchor="start" font-weight="bold" fill="#231815" stroke="#231815" stroke-width="0.15">3.95 mM PG</text>
<rect x="405.00" y="583.60" width="7.20" height="7.20" rx="0.8" fill="none" stroke="#686868" stroke-width="1.8"/>
<text x="419.30" y="592.60" font-size="15.7" text-anchor="start" font-weight="bold" fill="#231815" stroke="#231815" stroke-width="0.15">7.9 mM PG</text>
<polygon points="408.60,601.85 412.82,610.15 404.38,610.15" fill="none" stroke="#686868" stroke-width="1.8" stroke-linejoin="round"/>
<text x="419.30" y="611.90" font-size="15.7" text-anchor="start" font-weight="bold" fill="#231815" stroke="#231815" stroke-width="0.15">11.85 mM PG</text>
<polygon points="408.60,623.41 413.34,627.90 408.60,632.39 403.86,627.90" fill="none" stroke="#686868" stroke-width="1.8" stroke-linejoin="round"/>
<text x="419.30" y="633.30" font-size="15.7" text-anchor="start" font-weight="bold" fill="#231815" stroke="#231815" stroke-width="0.15">15.8 mM PG</text>
<text transform="translate(354.20 526.50) scale(0.92 1)" font-size="14.8" fill="#111">G</text>
<line x1="211.36" y1="209.40" x2="44.40" y2="279.00" stroke="#231815" stroke-width="1.25" stroke-dasharray="5.5,5"/>
<line x1="262.68" y1="209.40" x2="327.00" y2="279.00" stroke="#231815" stroke-width="1.25" stroke-dasharray="5.5,5"/>
<line x1="219.85" y1="725.00" x2="43.50" y2="793.80" stroke="#231815" stroke-width="1.25" stroke-dasharray="5.5,5"/>
<line x1="266.95" y1="725.00" x2="326.00" y2="793.80" stroke="#231815" stroke-width="1.25" stroke-dasharray="5.5,5"/>
</svg></body></html>
